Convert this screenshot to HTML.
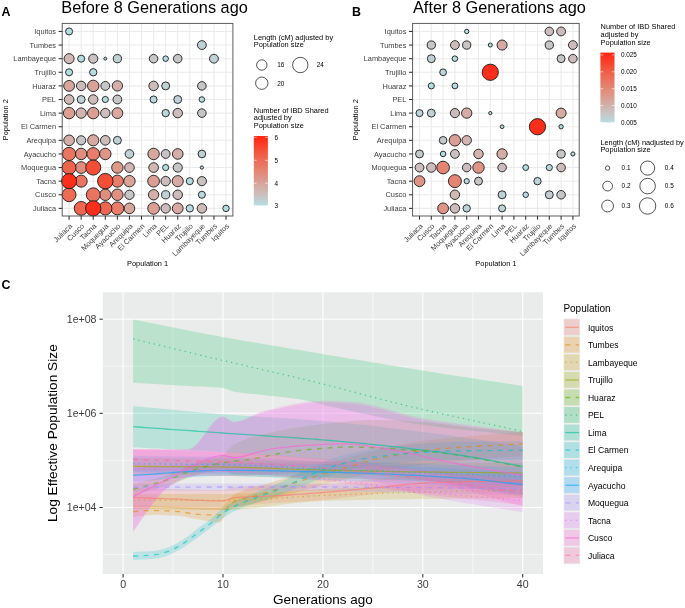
<!DOCTYPE html>
<html><head><meta charset="utf-8"><style>
html,body{margin:0;padding:0;background:#fff;}
body{width:685px;height:608px;overflow:hidden;font-family:"Liberation Sans",sans-serif;}
svg{display:block;will-change:transform;}
</style></head><body>
<svg width="685" height="608" viewBox="0 0 685 608">
<rect x="0" y="0" width="685" height="608" fill="#FFFFFF"/>
<rect x="62.2" y="23.4" width="170.7" height="192.6" fill="#FFFFFF"/>
<line x1="69.10" y1="23.4" x2="69.10" y2="216.0" stroke="#EBEBEB" stroke-width="1.07"/>
<line x1="81.17" y1="23.4" x2="81.17" y2="216.0" stroke="#EBEBEB" stroke-width="1.07"/>
<line x1="93.24" y1="23.4" x2="93.24" y2="216.0" stroke="#EBEBEB" stroke-width="1.07"/>
<line x1="105.31" y1="23.4" x2="105.31" y2="216.0" stroke="#EBEBEB" stroke-width="1.07"/>
<line x1="117.38" y1="23.4" x2="117.38" y2="216.0" stroke="#EBEBEB" stroke-width="1.07"/>
<line x1="129.45" y1="23.4" x2="129.45" y2="216.0" stroke="#EBEBEB" stroke-width="1.07"/>
<line x1="141.52" y1="23.4" x2="141.52" y2="216.0" stroke="#EBEBEB" stroke-width="1.07"/>
<line x1="153.59" y1="23.4" x2="153.59" y2="216.0" stroke="#EBEBEB" stroke-width="1.07"/>
<line x1="165.66" y1="23.4" x2="165.66" y2="216.0" stroke="#EBEBEB" stroke-width="1.07"/>
<line x1="177.73" y1="23.4" x2="177.73" y2="216.0" stroke="#EBEBEB" stroke-width="1.07"/>
<line x1="189.80" y1="23.4" x2="189.80" y2="216.0" stroke="#EBEBEB" stroke-width="1.07"/>
<line x1="201.87" y1="23.4" x2="201.87" y2="216.0" stroke="#EBEBEB" stroke-width="1.07"/>
<line x1="213.94" y1="23.4" x2="213.94" y2="216.0" stroke="#EBEBEB" stroke-width="1.07"/>
<line x1="226.01" y1="23.4" x2="226.01" y2="216.0" stroke="#EBEBEB" stroke-width="1.07"/>
<line x1="62.2" y1="31.45" x2="232.9" y2="31.45" stroke="#EBEBEB" stroke-width="1.07"/>
<line x1="62.2" y1="45.06" x2="232.9" y2="45.06" stroke="#EBEBEB" stroke-width="1.07"/>
<line x1="62.2" y1="58.67" x2="232.9" y2="58.67" stroke="#EBEBEB" stroke-width="1.07"/>
<line x1="62.2" y1="72.28" x2="232.9" y2="72.28" stroke="#EBEBEB" stroke-width="1.07"/>
<line x1="62.2" y1="85.89" x2="232.9" y2="85.89" stroke="#EBEBEB" stroke-width="1.07"/>
<line x1="62.2" y1="99.50" x2="232.9" y2="99.50" stroke="#EBEBEB" stroke-width="1.07"/>
<line x1="62.2" y1="113.11" x2="232.9" y2="113.11" stroke="#EBEBEB" stroke-width="1.07"/>
<line x1="62.2" y1="126.72" x2="232.9" y2="126.72" stroke="#EBEBEB" stroke-width="1.07"/>
<line x1="62.2" y1="140.33" x2="232.9" y2="140.33" stroke="#EBEBEB" stroke-width="1.07"/>
<line x1="62.2" y1="153.94" x2="232.9" y2="153.94" stroke="#EBEBEB" stroke-width="1.07"/>
<line x1="62.2" y1="167.55" x2="232.9" y2="167.55" stroke="#EBEBEB" stroke-width="1.07"/>
<line x1="62.2" y1="181.16" x2="232.9" y2="181.16" stroke="#EBEBEB" stroke-width="1.07"/>
<line x1="62.2" y1="194.77" x2="232.9" y2="194.77" stroke="#EBEBEB" stroke-width="1.07"/>
<line x1="62.2" y1="208.38" x2="232.9" y2="208.38" stroke="#EBEBEB" stroke-width="1.07"/>
<circle cx="69.10" cy="31.45" r="3.53" fill="#B6DCE2" stroke="#1A1A1A" stroke-width="0.9"/>
<circle cx="81.17" cy="58.67" r="3.53" fill="#B6DCE2" stroke="#1A1A1A" stroke-width="0.9"/>
<circle cx="105.31" cy="58.67" r="1.47" fill="#B6DCE2" stroke="#1A1A1A" stroke-width="0.9"/>
<circle cx="165.66" cy="58.67" r="2.78" fill="#B6DCE2" stroke="#1A1A1A" stroke-width="0.9"/>
<circle cx="69.10" cy="72.28" r="3.53" fill="#B6DCE2" stroke="#1A1A1A" stroke-width="0.9"/>
<circle cx="93.24" cy="72.28" r="3.68" fill="#B6DCE2" stroke="#1A1A1A" stroke-width="0.9"/>
<circle cx="105.31" cy="99.50" r="3.08" fill="#B6DCE2" stroke="#1A1A1A" stroke-width="0.9"/>
<circle cx="201.87" cy="99.50" r="2.78" fill="#B6DCE2" stroke="#1A1A1A" stroke-width="0.9"/>
<circle cx="165.66" cy="167.55" r="3.08" fill="#B6DCE2" stroke="#1A1A1A" stroke-width="0.9"/>
<circle cx="201.87" cy="167.55" r="1.62" fill="#B6DCE2" stroke="#1A1A1A" stroke-width="0.9"/>
<circle cx="189.80" cy="181.16" r="3.53" fill="#B6DCE2" stroke="#1A1A1A" stroke-width="0.9"/>
<circle cx="189.80" cy="208.38" r="3.68" fill="#B6DCE2" stroke="#1A1A1A" stroke-width="0.9"/>
<circle cx="226.01" cy="208.38" r="3.23" fill="#B6DCE2" stroke="#1A1A1A" stroke-width="0.9"/>
<circle cx="153.59" cy="99.50" r="3.53" fill="#BBD6DC" stroke="#1A1A1A" stroke-width="0.9"/>
<circle cx="165.66" cy="113.11" r="3.68" fill="#BBD6DC" stroke="#1A1A1A" stroke-width="0.9"/>
<circle cx="201.87" cy="194.77" r="3.53" fill="#BBD6DC" stroke="#1A1A1A" stroke-width="0.9"/>
<circle cx="201.87" cy="45.06" r="4.42" fill="#BFD1D5" stroke="#1A1A1A" stroke-width="0.9"/>
<circle cx="117.38" cy="58.67" r="4.12" fill="#BFD1D5" stroke="#1A1A1A" stroke-width="0.9"/>
<circle cx="213.94" cy="58.67" r="4.42" fill="#BFD1D5" stroke="#1A1A1A" stroke-width="0.9"/>
<circle cx="165.66" cy="85.89" r="3.98" fill="#BFD1D5" stroke="#1A1A1A" stroke-width="0.9"/>
<circle cx="81.17" cy="99.50" r="3.98" fill="#BFD1D5" stroke="#1A1A1A" stroke-width="0.9"/>
<circle cx="177.73" cy="99.50" r="3.98" fill="#BFD1D5" stroke="#1A1A1A" stroke-width="0.9"/>
<circle cx="117.38" cy="140.33" r="3.98" fill="#BFD1D5" stroke="#1A1A1A" stroke-width="0.9"/>
<circle cx="129.45" cy="153.94" r="4.33" fill="#BFD1D5" stroke="#1A1A1A" stroke-width="0.9"/>
<circle cx="201.87" cy="153.94" r="3.83" fill="#BFD1D5" stroke="#1A1A1A" stroke-width="0.9"/>
<circle cx="165.66" cy="194.77" r="4.12" fill="#BFD1D5" stroke="#1A1A1A" stroke-width="0.9"/>
<circle cx="153.59" cy="58.67" r="4.28" fill="#C6C6C7" stroke="#1A1A1A" stroke-width="0.9"/>
<circle cx="177.73" cy="58.67" r="4.28" fill="#C6C6C7" stroke="#1A1A1A" stroke-width="0.9"/>
<circle cx="105.31" cy="85.89" r="4.42" fill="#C6C6C7" stroke="#1A1A1A" stroke-width="0.9"/>
<circle cx="201.87" cy="85.89" r="4.28" fill="#C6C6C7" stroke="#1A1A1A" stroke-width="0.9"/>
<circle cx="117.38" cy="99.50" r="4.42" fill="#C6C6C7" stroke="#1A1A1A" stroke-width="0.9"/>
<circle cx="201.87" cy="113.11" r="4.28" fill="#C6C6C7" stroke="#1A1A1A" stroke-width="0.9"/>
<circle cx="177.73" cy="167.55" r="4.58" fill="#C6C6C7" stroke="#1A1A1A" stroke-width="0.9"/>
<circle cx="129.45" cy="194.77" r="4.67" fill="#C6C6C7" stroke="#1A1A1A" stroke-width="0.9"/>
<circle cx="81.17" cy="140.33" r="4.58" fill="#C7C4C5" stroke="#1A1A1A" stroke-width="0.9"/>
<circle cx="165.66" cy="153.94" r="4.42" fill="#C7C4C5" stroke="#1A1A1A" stroke-width="0.9"/>
<circle cx="93.24" cy="58.67" r="4.58" fill="#CAC1C1" stroke="#1A1A1A" stroke-width="0.9"/>
<circle cx="201.87" cy="181.16" r="4.58" fill="#CAC1C1" stroke="#1A1A1A" stroke-width="0.9"/>
<circle cx="81.17" cy="85.89" r="4.73" fill="#CCBDBC" stroke="#1A1A1A" stroke-width="0.9"/>
<circle cx="153.59" cy="85.89" r="4.73" fill="#CCBDBC" stroke="#1A1A1A" stroke-width="0.9"/>
<circle cx="105.31" cy="113.11" r="4.73" fill="#CCBDBC" stroke="#1A1A1A" stroke-width="0.9"/>
<circle cx="177.73" cy="113.11" r="4.73" fill="#CCBDBC" stroke="#1A1A1A" stroke-width="0.9"/>
<circle cx="105.31" cy="140.33" r="4.83" fill="#CCBDBC" stroke="#1A1A1A" stroke-width="0.9"/>
<circle cx="165.66" cy="181.16" r="4.73" fill="#CCBDBC" stroke="#1A1A1A" stroke-width="0.9"/>
<circle cx="177.73" cy="194.77" r="4.73" fill="#CCBDBC" stroke="#1A1A1A" stroke-width="0.9"/>
<circle cx="165.66" cy="208.38" r="4.73" fill="#CCBDBC" stroke="#1A1A1A" stroke-width="0.9"/>
<circle cx="93.24" cy="99.50" r="4.73" fill="#CDBCBA" stroke="#1A1A1A" stroke-width="0.9"/>
<circle cx="201.87" cy="208.38" r="4.73" fill="#CDBCBA" stroke="#1A1A1A" stroke-width="0.9"/>
<circle cx="69.10" cy="58.67" r="5.03" fill="#CFB8B5" stroke="#1A1A1A" stroke-width="0.9"/>
<circle cx="69.10" cy="99.50" r="4.83" fill="#CFB8B5" stroke="#1A1A1A" stroke-width="0.9"/>
<circle cx="129.45" cy="167.55" r="4.83" fill="#CFB8B5" stroke="#1A1A1A" stroke-width="0.9"/>
<circle cx="153.59" cy="167.55" r="4.83" fill="#CFB8B5" stroke="#1A1A1A" stroke-width="0.9"/>
<circle cx="81.17" cy="113.11" r="5.17" fill="#D2B5B1" stroke="#1A1A1A" stroke-width="0.9"/>
<circle cx="117.38" cy="85.89" r="5.17" fill="#D4AFAA" stroke="#1A1A1A" stroke-width="0.9"/>
<circle cx="69.10" cy="140.33" r="5.33" fill="#D4AFAA" stroke="#1A1A1A" stroke-width="0.9"/>
<circle cx="177.73" cy="153.94" r="5.33" fill="#D4AFAA" stroke="#1A1A1A" stroke-width="0.9"/>
<circle cx="153.59" cy="194.77" r="5.17" fill="#D4AFAA" stroke="#1A1A1A" stroke-width="0.9"/>
<circle cx="117.38" cy="113.11" r="5.42" fill="#D6AAA3" stroke="#1A1A1A" stroke-width="0.9"/>
<circle cx="93.24" cy="140.33" r="5.58" fill="#D6AAA3" stroke="#1A1A1A" stroke-width="0.9"/>
<circle cx="177.73" cy="181.16" r="5.58" fill="#D6AAA3" stroke="#1A1A1A" stroke-width="0.9"/>
<circle cx="177.73" cy="208.38" r="5.42" fill="#D6AAA3" stroke="#1A1A1A" stroke-width="0.9"/>
<circle cx="69.10" cy="85.89" r="5.42" fill="#D7A79E" stroke="#1A1A1A" stroke-width="0.9"/>
<circle cx="153.59" cy="153.94" r="5.73" fill="#D7A79E" stroke="#1A1A1A" stroke-width="0.9"/>
<circle cx="129.45" cy="208.38" r="5.33" fill="#D7A79E" stroke="#1A1A1A" stroke-width="0.9"/>
<circle cx="93.24" cy="85.89" r="5.73" fill="#D9A39A" stroke="#1A1A1A" stroke-width="0.9"/>
<circle cx="129.45" cy="181.16" r="5.73" fill="#D9A39A" stroke="#1A1A1A" stroke-width="0.9"/>
<circle cx="69.10" cy="113.11" r="5.73" fill="#DB9E93" stroke="#1A1A1A" stroke-width="0.9"/>
<circle cx="93.24" cy="113.11" r="5.73" fill="#DB9E93" stroke="#1A1A1A" stroke-width="0.9"/>
<circle cx="153.59" cy="181.16" r="5.88" fill="#DB9E93" stroke="#1A1A1A" stroke-width="0.9"/>
<circle cx="153.59" cy="208.38" r="5.88" fill="#DB9E93" stroke="#1A1A1A" stroke-width="0.9"/>
<circle cx="117.38" cy="167.55" r="5.73" fill="#DD998C" stroke="#1A1A1A" stroke-width="0.9"/>
<circle cx="105.31" cy="153.94" r="5.73" fill="#DE9587" stroke="#1A1A1A" stroke-width="0.9"/>
<circle cx="117.38" cy="194.77" r="5.73" fill="#DF9283" stroke="#1A1A1A" stroke-width="0.9"/>
<circle cx="81.17" cy="153.94" r="5.73" fill="#E18D7D" stroke="#1A1A1A" stroke-width="0.9"/>
<circle cx="81.17" cy="167.55" r="5.88" fill="#E18D7D" stroke="#1A1A1A" stroke-width="0.9"/>
<circle cx="105.31" cy="194.77" r="5.73" fill="#E18D7D" stroke="#1A1A1A" stroke-width="0.9"/>
<circle cx="93.24" cy="153.94" r="6.33" fill="#E77D6A" stroke="#1A1A1A" stroke-width="0.9"/>
<circle cx="117.38" cy="181.16" r="6.03" fill="#E77D6A" stroke="#1A1A1A" stroke-width="0.9"/>
<circle cx="117.38" cy="208.38" r="6.48" fill="#E77D6A" stroke="#1A1A1A" stroke-width="0.9"/>
<circle cx="69.10" cy="153.94" r="6.62" fill="#E97460" stroke="#1A1A1A" stroke-width="0.9"/>
<circle cx="81.17" cy="181.16" r="6.03" fill="#E97460" stroke="#1A1A1A" stroke-width="0.9"/>
<circle cx="93.24" cy="194.77" r="6.92" fill="#E97460" stroke="#1A1A1A" stroke-width="0.9"/>
<circle cx="69.10" cy="194.77" r="6.92" fill="#EC6C56" stroke="#1A1A1A" stroke-width="0.9"/>
<circle cx="81.17" cy="208.38" r="6.92" fill="#ED6750" stroke="#1A1A1A" stroke-width="0.9"/>
<circle cx="105.31" cy="208.38" r="6.62" fill="#ED6750" stroke="#1A1A1A" stroke-width="0.9"/>
<circle cx="69.10" cy="167.55" r="6.92" fill="#EE634C" stroke="#1A1A1A" stroke-width="0.9"/>
<circle cx="93.24" cy="167.55" r="7.53" fill="#F54E37" stroke="#1A1A1A" stroke-width="0.9"/>
<circle cx="105.31" cy="181.16" r="7.73" fill="#F54E37" stroke="#1A1A1A" stroke-width="0.9"/>
<circle cx="69.10" cy="181.16" r="7.53" fill="#FE2E1A" stroke="#1A1A1A" stroke-width="0.9"/>
<circle cx="93.24" cy="208.38" r="7.67" fill="#FE2E1A" stroke="#1A1A1A" stroke-width="0.9"/>
<rect x="62.2" y="23.4" width="170.7" height="192.6" fill="none" stroke="#555555" stroke-width="0.95"/>
<line x1="58.60" y1="31.45" x2="62.2" y2="31.45" stroke="#333333" stroke-width="1.07"/>
<text x="56.00" y="34.10" font-size="7.4" fill="#3D3D3D" text-anchor="end" font-family="Liberation Sans, sans-serif">Iquitos</text>
<line x1="58.60" y1="45.06" x2="62.2" y2="45.06" stroke="#333333" stroke-width="1.07"/>
<text x="56.00" y="47.71" font-size="7.4" fill="#3D3D3D" text-anchor="end" font-family="Liberation Sans, sans-serif">Tumbes</text>
<line x1="58.60" y1="58.67" x2="62.2" y2="58.67" stroke="#333333" stroke-width="1.07"/>
<text x="56.00" y="61.32" font-size="7.4" fill="#3D3D3D" text-anchor="end" font-family="Liberation Sans, sans-serif">Lambayeque</text>
<line x1="58.60" y1="72.28" x2="62.2" y2="72.28" stroke="#333333" stroke-width="1.07"/>
<text x="56.00" y="74.93" font-size="7.4" fill="#3D3D3D" text-anchor="end" font-family="Liberation Sans, sans-serif">Trujillo</text>
<line x1="58.60" y1="85.89" x2="62.2" y2="85.89" stroke="#333333" stroke-width="1.07"/>
<text x="56.00" y="88.54" font-size="7.4" fill="#3D3D3D" text-anchor="end" font-family="Liberation Sans, sans-serif">Huaraz</text>
<line x1="58.60" y1="99.50" x2="62.2" y2="99.50" stroke="#333333" stroke-width="1.07"/>
<text x="56.00" y="102.15" font-size="7.4" fill="#3D3D3D" text-anchor="end" font-family="Liberation Sans, sans-serif">PEL</text>
<line x1="58.60" y1="113.11" x2="62.2" y2="113.11" stroke="#333333" stroke-width="1.07"/>
<text x="56.00" y="115.76" font-size="7.4" fill="#3D3D3D" text-anchor="end" font-family="Liberation Sans, sans-serif">Lima</text>
<line x1="58.60" y1="126.72" x2="62.2" y2="126.72" stroke="#333333" stroke-width="1.07"/>
<text x="56.00" y="129.37" font-size="7.4" fill="#3D3D3D" text-anchor="end" font-family="Liberation Sans, sans-serif">El Carmen</text>
<line x1="58.60" y1="140.33" x2="62.2" y2="140.33" stroke="#333333" stroke-width="1.07"/>
<text x="56.00" y="142.98" font-size="7.4" fill="#3D3D3D" text-anchor="end" font-family="Liberation Sans, sans-serif">Arequipa</text>
<line x1="58.60" y1="153.94" x2="62.2" y2="153.94" stroke="#333333" stroke-width="1.07"/>
<text x="56.00" y="156.59" font-size="7.4" fill="#3D3D3D" text-anchor="end" font-family="Liberation Sans, sans-serif">Ayacucho</text>
<line x1="58.60" y1="167.55" x2="62.2" y2="167.55" stroke="#333333" stroke-width="1.07"/>
<text x="56.00" y="170.20" font-size="7.4" fill="#3D3D3D" text-anchor="end" font-family="Liberation Sans, sans-serif">Moquegua</text>
<line x1="58.60" y1="181.16" x2="62.2" y2="181.16" stroke="#333333" stroke-width="1.07"/>
<text x="56.00" y="183.81" font-size="7.4" fill="#3D3D3D" text-anchor="end" font-family="Liberation Sans, sans-serif">Tacna</text>
<line x1="58.60" y1="194.77" x2="62.2" y2="194.77" stroke="#333333" stroke-width="1.07"/>
<text x="56.00" y="197.42" font-size="7.4" fill="#3D3D3D" text-anchor="end" font-family="Liberation Sans, sans-serif">Cusco</text>
<line x1="58.60" y1="208.38" x2="62.2" y2="208.38" stroke="#333333" stroke-width="1.07"/>
<text x="56.00" y="211.03" font-size="7.4" fill="#3D3D3D" text-anchor="end" font-family="Liberation Sans, sans-serif">Juliaca</text>
<line x1="69.10" y1="216.0" x2="69.10" y2="219.70" stroke="#333333" stroke-width="1.07"/>
<text transform="translate(72.70,226.60) rotate(-45)" font-size="7.4" fill="#3D3D3D" text-anchor="end" font-family="Liberation Sans, sans-serif">Juliaca</text>
<line x1="81.17" y1="216.0" x2="81.17" y2="219.70" stroke="#333333" stroke-width="1.07"/>
<text transform="translate(84.77,226.60) rotate(-45)" font-size="7.4" fill="#3D3D3D" text-anchor="end" font-family="Liberation Sans, sans-serif">Cusco</text>
<line x1="93.24" y1="216.0" x2="93.24" y2="219.70" stroke="#333333" stroke-width="1.07"/>
<text transform="translate(96.84,226.60) rotate(-45)" font-size="7.4" fill="#3D3D3D" text-anchor="end" font-family="Liberation Sans, sans-serif">Tacna</text>
<line x1="105.31" y1="216.0" x2="105.31" y2="219.70" stroke="#333333" stroke-width="1.07"/>
<text transform="translate(108.91,226.60) rotate(-45)" font-size="7.4" fill="#3D3D3D" text-anchor="end" font-family="Liberation Sans, sans-serif">Moquegua</text>
<line x1="117.38" y1="216.0" x2="117.38" y2="219.70" stroke="#333333" stroke-width="1.07"/>
<text transform="translate(120.98,226.60) rotate(-45)" font-size="7.4" fill="#3D3D3D" text-anchor="end" font-family="Liberation Sans, sans-serif">Ayacucho</text>
<line x1="129.45" y1="216.0" x2="129.45" y2="219.70" stroke="#333333" stroke-width="1.07"/>
<text transform="translate(133.05,226.60) rotate(-45)" font-size="7.4" fill="#3D3D3D" text-anchor="end" font-family="Liberation Sans, sans-serif">Arequipa</text>
<line x1="141.52" y1="216.0" x2="141.52" y2="219.70" stroke="#333333" stroke-width="1.07"/>
<text transform="translate(145.12,226.60) rotate(-45)" font-size="7.4" fill="#3D3D3D" text-anchor="end" font-family="Liberation Sans, sans-serif">El Carmen</text>
<line x1="153.59" y1="216.0" x2="153.59" y2="219.70" stroke="#333333" stroke-width="1.07"/>
<text transform="translate(157.19,226.60) rotate(-45)" font-size="7.4" fill="#3D3D3D" text-anchor="end" font-family="Liberation Sans, sans-serif">Lima</text>
<line x1="165.66" y1="216.0" x2="165.66" y2="219.70" stroke="#333333" stroke-width="1.07"/>
<text transform="translate(169.26,226.60) rotate(-45)" font-size="7.4" fill="#3D3D3D" text-anchor="end" font-family="Liberation Sans, sans-serif">PEL</text>
<line x1="177.73" y1="216.0" x2="177.73" y2="219.70" stroke="#333333" stroke-width="1.07"/>
<text transform="translate(181.33,226.60) rotate(-45)" font-size="7.4" fill="#3D3D3D" text-anchor="end" font-family="Liberation Sans, sans-serif">Huaraz</text>
<line x1="189.80" y1="216.0" x2="189.80" y2="219.70" stroke="#333333" stroke-width="1.07"/>
<text transform="translate(193.40,226.60) rotate(-45)" font-size="7.4" fill="#3D3D3D" text-anchor="end" font-family="Liberation Sans, sans-serif">Trujillo</text>
<line x1="201.87" y1="216.0" x2="201.87" y2="219.70" stroke="#333333" stroke-width="1.07"/>
<text transform="translate(205.47,226.60) rotate(-45)" font-size="7.4" fill="#3D3D3D" text-anchor="end" font-family="Liberation Sans, sans-serif">Lambayeque</text>
<line x1="213.94" y1="216.0" x2="213.94" y2="219.70" stroke="#333333" stroke-width="1.07"/>
<text transform="translate(217.54,226.60) rotate(-45)" font-size="7.4" fill="#3D3D3D" text-anchor="end" font-family="Liberation Sans, sans-serif">Tumbes</text>
<line x1="226.01" y1="216.0" x2="226.01" y2="219.70" stroke="#333333" stroke-width="1.07"/>
<text transform="translate(229.61,226.60) rotate(-45)" font-size="7.4" fill="#3D3D3D" text-anchor="end" font-family="Liberation Sans, sans-serif">Iquitos</text>
<text x="147.55" y="266.2" font-size="7.4" fill="#000" text-anchor="middle" font-family="Liberation Sans, sans-serif">Population 1</text>
<text transform="translate(7.60,119.70) rotate(-90)" font-size="7.4" fill="#000" text-anchor="middle" font-family="Liberation Sans, sans-serif">Population 2</text>
<text x="61.3" y="12.9" font-size="16.3" fill="#000" font-family="Liberation Sans, sans-serif">Before 8 Generations ago</text>
<text x="1.4" y="15.6" font-size="12.4" font-weight="bold" fill="#000" font-family="Liberation Sans, sans-serif">A</text>
<rect x="412.6" y="23.4" width="166.60000000000002" height="192.6" fill="#FFFFFF"/>
<line x1="419.50" y1="23.4" x2="419.50" y2="216.0" stroke="#EBEBEB" stroke-width="1.07"/>
<line x1="431.30" y1="23.4" x2="431.30" y2="216.0" stroke="#EBEBEB" stroke-width="1.07"/>
<line x1="443.10" y1="23.4" x2="443.10" y2="216.0" stroke="#EBEBEB" stroke-width="1.07"/>
<line x1="454.90" y1="23.4" x2="454.90" y2="216.0" stroke="#EBEBEB" stroke-width="1.07"/>
<line x1="466.70" y1="23.4" x2="466.70" y2="216.0" stroke="#EBEBEB" stroke-width="1.07"/>
<line x1="478.50" y1="23.4" x2="478.50" y2="216.0" stroke="#EBEBEB" stroke-width="1.07"/>
<line x1="490.30" y1="23.4" x2="490.30" y2="216.0" stroke="#EBEBEB" stroke-width="1.07"/>
<line x1="502.10" y1="23.4" x2="502.10" y2="216.0" stroke="#EBEBEB" stroke-width="1.07"/>
<line x1="513.90" y1="23.4" x2="513.90" y2="216.0" stroke="#EBEBEB" stroke-width="1.07"/>
<line x1="525.70" y1="23.4" x2="525.70" y2="216.0" stroke="#EBEBEB" stroke-width="1.07"/>
<line x1="537.50" y1="23.4" x2="537.50" y2="216.0" stroke="#EBEBEB" stroke-width="1.07"/>
<line x1="549.30" y1="23.4" x2="549.30" y2="216.0" stroke="#EBEBEB" stroke-width="1.07"/>
<line x1="561.10" y1="23.4" x2="561.10" y2="216.0" stroke="#EBEBEB" stroke-width="1.07"/>
<line x1="572.90" y1="23.4" x2="572.90" y2="216.0" stroke="#EBEBEB" stroke-width="1.07"/>
<line x1="412.6" y1="31.45" x2="579.2" y2="31.45" stroke="#EBEBEB" stroke-width="1.07"/>
<line x1="412.6" y1="45.06" x2="579.2" y2="45.06" stroke="#EBEBEB" stroke-width="1.07"/>
<line x1="412.6" y1="58.67" x2="579.2" y2="58.67" stroke="#EBEBEB" stroke-width="1.07"/>
<line x1="412.6" y1="72.28" x2="579.2" y2="72.28" stroke="#EBEBEB" stroke-width="1.07"/>
<line x1="412.6" y1="85.89" x2="579.2" y2="85.89" stroke="#EBEBEB" stroke-width="1.07"/>
<line x1="412.6" y1="99.50" x2="579.2" y2="99.50" stroke="#EBEBEB" stroke-width="1.07"/>
<line x1="412.6" y1="113.11" x2="579.2" y2="113.11" stroke="#EBEBEB" stroke-width="1.07"/>
<line x1="412.6" y1="126.72" x2="579.2" y2="126.72" stroke="#EBEBEB" stroke-width="1.07"/>
<line x1="412.6" y1="140.33" x2="579.2" y2="140.33" stroke="#EBEBEB" stroke-width="1.07"/>
<line x1="412.6" y1="153.94" x2="579.2" y2="153.94" stroke="#EBEBEB" stroke-width="1.07"/>
<line x1="412.6" y1="167.55" x2="579.2" y2="167.55" stroke="#EBEBEB" stroke-width="1.07"/>
<line x1="412.6" y1="181.16" x2="579.2" y2="181.16" stroke="#EBEBEB" stroke-width="1.07"/>
<line x1="412.6" y1="194.77" x2="579.2" y2="194.77" stroke="#EBEBEB" stroke-width="1.07"/>
<line x1="412.6" y1="208.38" x2="579.2" y2="208.38" stroke="#EBEBEB" stroke-width="1.07"/>
<circle cx="466.70" cy="31.45" r="2.18" fill="#B6DCE2" stroke="#1A1A1A" stroke-width="0.9"/>
<circle cx="490.30" cy="45.06" r="2.03" fill="#B6DCE2" stroke="#1A1A1A" stroke-width="0.9"/>
<circle cx="454.90" cy="58.67" r="2.78" fill="#B6DCE2" stroke="#1A1A1A" stroke-width="0.9"/>
<circle cx="431.30" cy="85.89" r="3.08" fill="#B6DCE2" stroke="#1A1A1A" stroke-width="0.9"/>
<circle cx="454.90" cy="85.89" r="2.93" fill="#B6DCE2" stroke="#1A1A1A" stroke-width="0.9"/>
<circle cx="490.30" cy="113.11" r="1.62" fill="#B6DCE2" stroke="#1A1A1A" stroke-width="0.9"/>
<circle cx="502.10" cy="126.72" r="1.87" fill="#B6DCE2" stroke="#1A1A1A" stroke-width="0.9"/>
<circle cx="561.10" cy="126.72" r="2.18" fill="#B6DCE2" stroke="#1A1A1A" stroke-width="0.9"/>
<circle cx="443.10" cy="153.94" r="2.78" fill="#B6DCE2" stroke="#1A1A1A" stroke-width="0.9"/>
<circle cx="572.90" cy="153.94" r="2.03" fill="#B6DCE2" stroke="#1A1A1A" stroke-width="0.9"/>
<circle cx="525.70" cy="167.55" r="2.93" fill="#B6DCE2" stroke="#1A1A1A" stroke-width="0.9"/>
<circle cx="549.30" cy="167.55" r="3.08" fill="#B6DCE2" stroke="#1A1A1A" stroke-width="0.9"/>
<circle cx="466.70" cy="181.16" r="2.62" fill="#B6DCE2" stroke="#1A1A1A" stroke-width="0.9"/>
<circle cx="525.70" cy="194.77" r="2.78" fill="#B6DCE2" stroke="#1A1A1A" stroke-width="0.9"/>
<circle cx="419.50" cy="113.11" r="3.53" fill="#BBD6DC" stroke="#1A1A1A" stroke-width="0.9"/>
<circle cx="443.10" cy="72.28" r="3.38" fill="#BCD5D9" stroke="#1A1A1A" stroke-width="0.9"/>
<circle cx="502.10" cy="208.38" r="3.53" fill="#BCD5D9" stroke="#1A1A1A" stroke-width="0.9"/>
<circle cx="537.50" cy="181.16" r="3.68" fill="#BED3D7" stroke="#1A1A1A" stroke-width="0.9"/>
<circle cx="466.70" cy="208.38" r="3.68" fill="#BED3D7" stroke="#1A1A1A" stroke-width="0.9"/>
<circle cx="431.30" cy="58.67" r="3.98" fill="#BFD1D5" stroke="#1A1A1A" stroke-width="0.9"/>
<circle cx="431.30" cy="113.11" r="3.98" fill="#BFD1D5" stroke="#1A1A1A" stroke-width="0.9"/>
<circle cx="502.10" cy="194.77" r="3.98" fill="#BFD1D5" stroke="#1A1A1A" stroke-width="0.9"/>
<circle cx="549.30" cy="194.77" r="3.98" fill="#C2CDD1" stroke="#1A1A1A" stroke-width="0.9"/>
<circle cx="443.10" cy="140.33" r="3.83" fill="#C4CACC" stroke="#1A1A1A" stroke-width="0.9"/>
<circle cx="419.50" cy="153.94" r="3.98" fill="#C4CACC" stroke="#1A1A1A" stroke-width="0.9"/>
<circle cx="431.30" cy="45.06" r="4.12" fill="#C6C6C7" stroke="#1A1A1A" stroke-width="0.9"/>
<circle cx="549.30" cy="45.06" r="4.12" fill="#C6C6C7" stroke="#1A1A1A" stroke-width="0.9"/>
<circle cx="561.10" cy="58.67" r="3.98" fill="#C6C6C7" stroke="#1A1A1A" stroke-width="0.9"/>
<circle cx="561.10" cy="153.94" r="4.12" fill="#C6C6C7" stroke="#1A1A1A" stroke-width="0.9"/>
<circle cx="478.50" cy="181.16" r="3.98" fill="#C6C6C7" stroke="#1A1A1A" stroke-width="0.9"/>
<circle cx="561.10" cy="194.77" r="4.28" fill="#C6C6C7" stroke="#1A1A1A" stroke-width="0.9"/>
<circle cx="466.70" cy="45.06" r="4.12" fill="#C9C3C3" stroke="#1A1A1A" stroke-width="0.9"/>
<circle cx="454.90" cy="153.94" r="4.42" fill="#CAC1C1" stroke="#1A1A1A" stroke-width="0.9"/>
<circle cx="549.30" cy="31.45" r="4.28" fill="#CCBDBC" stroke="#1A1A1A" stroke-width="0.9"/>
<circle cx="561.10" cy="31.45" r="4.42" fill="#CCBDBC" stroke="#1A1A1A" stroke-width="0.9"/>
<circle cx="454.90" cy="45.06" r="4.42" fill="#CCBDBC" stroke="#1A1A1A" stroke-width="0.9"/>
<circle cx="572.90" cy="45.06" r="4.42" fill="#CCBDBC" stroke="#1A1A1A" stroke-width="0.9"/>
<circle cx="572.90" cy="58.67" r="4.28" fill="#CCBDBC" stroke="#1A1A1A" stroke-width="0.9"/>
<circle cx="454.90" cy="113.11" r="4.58" fill="#CCBDBC" stroke="#1A1A1A" stroke-width="0.9"/>
<circle cx="419.50" cy="167.55" r="4.42" fill="#CCBDBC" stroke="#1A1A1A" stroke-width="0.9"/>
<circle cx="466.70" cy="167.55" r="4.28" fill="#CCBDBC" stroke="#1A1A1A" stroke-width="0.9"/>
<circle cx="502.10" cy="167.55" r="4.28" fill="#CCBDBC" stroke="#1A1A1A" stroke-width="0.9"/>
<circle cx="561.10" cy="167.55" r="4.28" fill="#CCBDBC" stroke="#1A1A1A" stroke-width="0.9"/>
<circle cx="454.90" cy="208.38" r="4.73" fill="#CCBDBC" stroke="#1A1A1A" stroke-width="0.9"/>
<circle cx="431.30" cy="167.55" r="4.73" fill="#CDBCBA" stroke="#1A1A1A" stroke-width="0.9"/>
<circle cx="454.90" cy="194.77" r="4.73" fill="#CFB8B5" stroke="#1A1A1A" stroke-width="0.9"/>
<circle cx="466.70" cy="140.33" r="4.73" fill="#D2B5B1" stroke="#1A1A1A" stroke-width="0.9"/>
<circle cx="478.50" cy="153.94" r="4.73" fill="#D2B5B1" stroke="#1A1A1A" stroke-width="0.9"/>
<circle cx="466.70" cy="113.11" r="5.17" fill="#D5ACA5" stroke="#1A1A1A" stroke-width="0.9"/>
<circle cx="561.10" cy="113.11" r="5.03" fill="#D5ACA5" stroke="#1A1A1A" stroke-width="0.9"/>
<circle cx="502.10" cy="153.94" r="5.17" fill="#D5ACA5" stroke="#1A1A1A" stroke-width="0.9"/>
<circle cx="502.10" cy="45.06" r="5.03" fill="#D6AAA3" stroke="#1A1A1A" stroke-width="0.9"/>
<circle cx="454.90" cy="140.33" r="5.73" fill="#DB9E93" stroke="#1A1A1A" stroke-width="0.9"/>
<circle cx="478.50" cy="167.55" r="5.73" fill="#DE9587" stroke="#1A1A1A" stroke-width="0.9"/>
<circle cx="419.50" cy="181.16" r="5.42" fill="#DE9587" stroke="#1A1A1A" stroke-width="0.9"/>
<circle cx="443.10" cy="208.38" r="5.42" fill="#DE9587" stroke="#1A1A1A" stroke-width="0.9"/>
<circle cx="443.10" cy="167.55" r="6.33" fill="#E48573" stroke="#1A1A1A" stroke-width="0.9"/>
<circle cx="454.90" cy="181.16" r="6.48" fill="#E48573" stroke="#1A1A1A" stroke-width="0.9"/>
<circle cx="490.30" cy="72.28" r="8.12" fill="#FE2E1A" stroke="#1A1A1A" stroke-width="0.9"/>
<circle cx="537.50" cy="126.72" r="8.12" fill="#FE2E1A" stroke="#1A1A1A" stroke-width="0.9"/>
<rect x="412.6" y="23.4" width="166.60000000000002" height="192.6" fill="none" stroke="#555555" stroke-width="0.95"/>
<line x1="409.00" y1="31.45" x2="412.6" y2="31.45" stroke="#333333" stroke-width="1.07"/>
<text x="406.40" y="34.10" font-size="7.4" fill="#3D3D3D" text-anchor="end" font-family="Liberation Sans, sans-serif">Iquitos</text>
<line x1="409.00" y1="45.06" x2="412.6" y2="45.06" stroke="#333333" stroke-width="1.07"/>
<text x="406.40" y="47.71" font-size="7.4" fill="#3D3D3D" text-anchor="end" font-family="Liberation Sans, sans-serif">Tumbes</text>
<line x1="409.00" y1="58.67" x2="412.6" y2="58.67" stroke="#333333" stroke-width="1.07"/>
<text x="406.40" y="61.32" font-size="7.4" fill="#3D3D3D" text-anchor="end" font-family="Liberation Sans, sans-serif">Lambayeque</text>
<line x1="409.00" y1="72.28" x2="412.6" y2="72.28" stroke="#333333" stroke-width="1.07"/>
<text x="406.40" y="74.93" font-size="7.4" fill="#3D3D3D" text-anchor="end" font-family="Liberation Sans, sans-serif">Trujillo</text>
<line x1="409.00" y1="85.89" x2="412.6" y2="85.89" stroke="#333333" stroke-width="1.07"/>
<text x="406.40" y="88.54" font-size="7.4" fill="#3D3D3D" text-anchor="end" font-family="Liberation Sans, sans-serif">Huaraz</text>
<line x1="409.00" y1="99.50" x2="412.6" y2="99.50" stroke="#333333" stroke-width="1.07"/>
<text x="406.40" y="102.15" font-size="7.4" fill="#3D3D3D" text-anchor="end" font-family="Liberation Sans, sans-serif">PEL</text>
<line x1="409.00" y1="113.11" x2="412.6" y2="113.11" stroke="#333333" stroke-width="1.07"/>
<text x="406.40" y="115.76" font-size="7.4" fill="#3D3D3D" text-anchor="end" font-family="Liberation Sans, sans-serif">Lima</text>
<line x1="409.00" y1="126.72" x2="412.6" y2="126.72" stroke="#333333" stroke-width="1.07"/>
<text x="406.40" y="129.37" font-size="7.4" fill="#3D3D3D" text-anchor="end" font-family="Liberation Sans, sans-serif">El Carmen</text>
<line x1="409.00" y1="140.33" x2="412.6" y2="140.33" stroke="#333333" stroke-width="1.07"/>
<text x="406.40" y="142.98" font-size="7.4" fill="#3D3D3D" text-anchor="end" font-family="Liberation Sans, sans-serif">Arequipa</text>
<line x1="409.00" y1="153.94" x2="412.6" y2="153.94" stroke="#333333" stroke-width="1.07"/>
<text x="406.40" y="156.59" font-size="7.4" fill="#3D3D3D" text-anchor="end" font-family="Liberation Sans, sans-serif">Ayacucho</text>
<line x1="409.00" y1="167.55" x2="412.6" y2="167.55" stroke="#333333" stroke-width="1.07"/>
<text x="406.40" y="170.20" font-size="7.4" fill="#3D3D3D" text-anchor="end" font-family="Liberation Sans, sans-serif">Moquegua</text>
<line x1="409.00" y1="181.16" x2="412.6" y2="181.16" stroke="#333333" stroke-width="1.07"/>
<text x="406.40" y="183.81" font-size="7.4" fill="#3D3D3D" text-anchor="end" font-family="Liberation Sans, sans-serif">Tacna</text>
<line x1="409.00" y1="194.77" x2="412.6" y2="194.77" stroke="#333333" stroke-width="1.07"/>
<text x="406.40" y="197.42" font-size="7.4" fill="#3D3D3D" text-anchor="end" font-family="Liberation Sans, sans-serif">Cusco</text>
<line x1="409.00" y1="208.38" x2="412.6" y2="208.38" stroke="#333333" stroke-width="1.07"/>
<text x="406.40" y="211.03" font-size="7.4" fill="#3D3D3D" text-anchor="end" font-family="Liberation Sans, sans-serif">Juliaca</text>
<line x1="419.50" y1="216.0" x2="419.50" y2="219.70" stroke="#333333" stroke-width="1.07"/>
<text transform="translate(423.10,226.60) rotate(-45)" font-size="7.4" fill="#3D3D3D" text-anchor="end" font-family="Liberation Sans, sans-serif">Juliaca</text>
<line x1="431.30" y1="216.0" x2="431.30" y2="219.70" stroke="#333333" stroke-width="1.07"/>
<text transform="translate(434.90,226.60) rotate(-45)" font-size="7.4" fill="#3D3D3D" text-anchor="end" font-family="Liberation Sans, sans-serif">Cusco</text>
<line x1="443.10" y1="216.0" x2="443.10" y2="219.70" stroke="#333333" stroke-width="1.07"/>
<text transform="translate(446.70,226.60) rotate(-45)" font-size="7.4" fill="#3D3D3D" text-anchor="end" font-family="Liberation Sans, sans-serif">Tacna</text>
<line x1="454.90" y1="216.0" x2="454.90" y2="219.70" stroke="#333333" stroke-width="1.07"/>
<text transform="translate(458.50,226.60) rotate(-45)" font-size="7.4" fill="#3D3D3D" text-anchor="end" font-family="Liberation Sans, sans-serif">Moquegua</text>
<line x1="466.70" y1="216.0" x2="466.70" y2="219.70" stroke="#333333" stroke-width="1.07"/>
<text transform="translate(470.30,226.60) rotate(-45)" font-size="7.4" fill="#3D3D3D" text-anchor="end" font-family="Liberation Sans, sans-serif">Ayacucho</text>
<line x1="478.50" y1="216.0" x2="478.50" y2="219.70" stroke="#333333" stroke-width="1.07"/>
<text transform="translate(482.10,226.60) rotate(-45)" font-size="7.4" fill="#3D3D3D" text-anchor="end" font-family="Liberation Sans, sans-serif">Arequipa</text>
<line x1="490.30" y1="216.0" x2="490.30" y2="219.70" stroke="#333333" stroke-width="1.07"/>
<text transform="translate(493.90,226.60) rotate(-45)" font-size="7.4" fill="#3D3D3D" text-anchor="end" font-family="Liberation Sans, sans-serif">El Carmen</text>
<line x1="502.10" y1="216.0" x2="502.10" y2="219.70" stroke="#333333" stroke-width="1.07"/>
<text transform="translate(505.70,226.60) rotate(-45)" font-size="7.4" fill="#3D3D3D" text-anchor="end" font-family="Liberation Sans, sans-serif">Lima</text>
<line x1="513.90" y1="216.0" x2="513.90" y2="219.70" stroke="#333333" stroke-width="1.07"/>
<text transform="translate(517.50,226.60) rotate(-45)" font-size="7.4" fill="#3D3D3D" text-anchor="end" font-family="Liberation Sans, sans-serif">PEL</text>
<line x1="525.70" y1="216.0" x2="525.70" y2="219.70" stroke="#333333" stroke-width="1.07"/>
<text transform="translate(529.30,226.60) rotate(-45)" font-size="7.4" fill="#3D3D3D" text-anchor="end" font-family="Liberation Sans, sans-serif">Huaraz</text>
<line x1="537.50" y1="216.0" x2="537.50" y2="219.70" stroke="#333333" stroke-width="1.07"/>
<text transform="translate(541.10,226.60) rotate(-45)" font-size="7.4" fill="#3D3D3D" text-anchor="end" font-family="Liberation Sans, sans-serif">Trujillo</text>
<line x1="549.30" y1="216.0" x2="549.30" y2="219.70" stroke="#333333" stroke-width="1.07"/>
<text transform="translate(552.90,226.60) rotate(-45)" font-size="7.4" fill="#3D3D3D" text-anchor="end" font-family="Liberation Sans, sans-serif">Lambayeque</text>
<line x1="561.10" y1="216.0" x2="561.10" y2="219.70" stroke="#333333" stroke-width="1.07"/>
<text transform="translate(564.70,226.60) rotate(-45)" font-size="7.4" fill="#3D3D3D" text-anchor="end" font-family="Liberation Sans, sans-serif">Tumbes</text>
<line x1="572.90" y1="216.0" x2="572.90" y2="219.70" stroke="#333333" stroke-width="1.07"/>
<text transform="translate(576.50,226.60) rotate(-45)" font-size="7.4" fill="#3D3D3D" text-anchor="end" font-family="Liberation Sans, sans-serif">Iquitos</text>
<text x="495.90" y="266.2" font-size="7.4" fill="#000" text-anchor="middle" font-family="Liberation Sans, sans-serif">Population 1</text>
<text transform="translate(358.00,119.70) rotate(-90)" font-size="7.4" fill="#000" text-anchor="middle" font-family="Liberation Sans, sans-serif">Population 2</text>
<text x="413.0" y="12.9" font-size="16.3" fill="#000" font-family="Liberation Sans, sans-serif">After 8 Generations ago</text>
<text x="352.0" y="15.6" font-size="12.4" font-weight="bold" fill="#000" font-family="Liberation Sans, sans-serif">B</text>
<text x="253.8" y="39.90" font-size="7.4" fill="#000" font-family="Liberation Sans, sans-serif">Length (cM) adjusted by</text>
<text x="253.8" y="47.40" font-size="7.4" fill="#000" font-family="Liberation Sans, sans-serif">Population size</text>
<circle cx="261.8" cy="65.0" r="5.2" fill="none" stroke="#1A1A1A" stroke-width="0.75"/>
<text x="277.2" y="67.30" font-size="6.4" fill="#000" font-family="Liberation Sans, sans-serif">16</text>
<circle cx="300.3" cy="65.0" r="7.7" fill="none" stroke="#1A1A1A" stroke-width="0.75"/>
<text x="316.8" y="67.30" font-size="6.4" fill="#000" font-family="Liberation Sans, sans-serif">24</text>
<circle cx="261.8" cy="83.2" r="6.2" fill="none" stroke="#1A1A1A" stroke-width="0.75"/>
<text x="277.2" y="85.50" font-size="6.4" fill="#000" font-family="Liberation Sans, sans-serif">20</text>
<text x="253.8" y="112.70" font-size="7.4" fill="#000" font-family="Liberation Sans, sans-serif">Number of IBD Shared</text>
<text x="253.8" y="120.40" font-size="7.4" fill="#000" font-family="Liberation Sans, sans-serif">adjusted by</text>
<text x="253.8" y="128.10" font-size="7.4" fill="#000" font-family="Liberation Sans, sans-serif">Population size</text>
<defs><linearGradient id="cb253" x1="0" y1="1" x2="0" y2="0">
<stop offset="0.0" stop-color="#B6DCE2"/>
<stop offset="0.1" stop-color="#C4CACC"/>
<stop offset="0.2" stop-color="#CFB8B5"/>
<stop offset="0.3" stop-color="#D7A79E"/>
<stop offset="0.4" stop-color="#DE9587"/>
<stop offset="0.5" stop-color="#E48573"/>
<stop offset="0.6" stop-color="#E97460"/>
<stop offset="0.7" stop-color="#EE634C"/>
<stop offset="0.8" stop-color="#F54E37"/>
<stop offset="0.9" stop-color="#FC3722"/>
<stop offset="1.0" stop-color="#FF2412"/>
</linearGradient></defs>
<rect x="253.8" y="136.0" width="14.1" height="69.50" fill="url(#cb253)"/>
<line x1="253.8" y1="137.30" x2="256.60" y2="137.30" stroke="#FFFFFF" stroke-width="0.6"/>
<line x1="265.10" y1="137.30" x2="267.90" y2="137.30" stroke="#FFFFFF" stroke-width="0.6"/>
<text x="274.5" y="139.60" font-size="6.4" fill="#000" font-family="Liberation Sans, sans-serif">6</text>
<line x1="253.8" y1="160.30" x2="256.60" y2="160.30" stroke="#FFFFFF" stroke-width="0.6"/>
<line x1="265.10" y1="160.30" x2="267.90" y2="160.30" stroke="#FFFFFF" stroke-width="0.6"/>
<text x="274.5" y="162.60" font-size="6.4" fill="#000" font-family="Liberation Sans, sans-serif">5</text>
<line x1="253.8" y1="183.20" x2="256.60" y2="183.20" stroke="#FFFFFF" stroke-width="0.6"/>
<line x1="265.10" y1="183.20" x2="267.90" y2="183.20" stroke="#FFFFFF" stroke-width="0.6"/>
<text x="274.5" y="185.50" font-size="6.4" fill="#000" font-family="Liberation Sans, sans-serif">4</text>
<line x1="253.8" y1="205.60" x2="256.60" y2="205.60" stroke="#FFFFFF" stroke-width="0.6"/>
<line x1="265.10" y1="205.60" x2="267.90" y2="205.60" stroke="#FFFFFF" stroke-width="0.6"/>
<text x="274.5" y="207.90" font-size="6.4" fill="#000" font-family="Liberation Sans, sans-serif">3</text>
<text x="600.6" y="29.00" font-size="7.4" fill="#000" font-family="Liberation Sans, sans-serif">Number of IBD Shared</text>
<text x="600.6" y="36.80" font-size="7.4" fill="#000" font-family="Liberation Sans, sans-serif">adjusted by</text>
<text x="600.6" y="44.60" font-size="7.4" fill="#000" font-family="Liberation Sans, sans-serif">Population size</text>
<defs><linearGradient id="cb600" x1="0" y1="1" x2="0" y2="0">
<stop offset="0.0" stop-color="#B6DCE2"/>
<stop offset="0.1" stop-color="#C4CACC"/>
<stop offset="0.2" stop-color="#CFB8B5"/>
<stop offset="0.3" stop-color="#D7A79E"/>
<stop offset="0.4" stop-color="#DE9587"/>
<stop offset="0.5" stop-color="#E48573"/>
<stop offset="0.6" stop-color="#E97460"/>
<stop offset="0.7" stop-color="#EE634C"/>
<stop offset="0.8" stop-color="#F54E37"/>
<stop offset="0.9" stop-color="#FC3722"/>
<stop offset="1.0" stop-color="#FF2412"/>
</linearGradient></defs>
<rect x="600.4" y="52.6" width="14.1" height="69.80" fill="url(#cb600)"/>
<line x1="600.4" y1="54.90" x2="603.20" y2="54.90" stroke="#FFFFFF" stroke-width="0.6"/>
<line x1="611.70" y1="54.90" x2="614.50" y2="54.90" stroke="#FFFFFF" stroke-width="0.6"/>
<text x="620.9" y="57.20" font-size="6.4" fill="#000" font-family="Liberation Sans, sans-serif">0.025</text>
<line x1="600.4" y1="71.80" x2="603.20" y2="71.80" stroke="#FFFFFF" stroke-width="0.6"/>
<line x1="611.70" y1="71.80" x2="614.50" y2="71.80" stroke="#FFFFFF" stroke-width="0.6"/>
<text x="620.9" y="74.10" font-size="6.4" fill="#000" font-family="Liberation Sans, sans-serif">0.020</text>
<line x1="600.4" y1="88.70" x2="603.20" y2="88.70" stroke="#FFFFFF" stroke-width="0.6"/>
<line x1="611.70" y1="88.70" x2="614.50" y2="88.70" stroke="#FFFFFF" stroke-width="0.6"/>
<text x="620.9" y="91.00" font-size="6.4" fill="#000" font-family="Liberation Sans, sans-serif">0.015</text>
<line x1="600.4" y1="105.50" x2="603.20" y2="105.50" stroke="#FFFFFF" stroke-width="0.6"/>
<line x1="611.70" y1="105.50" x2="614.50" y2="105.50" stroke="#FFFFFF" stroke-width="0.6"/>
<text x="620.9" y="107.80" font-size="6.4" fill="#000" font-family="Liberation Sans, sans-serif">0.010</text>
<line x1="600.4" y1="122.20" x2="603.20" y2="122.20" stroke="#FFFFFF" stroke-width="0.6"/>
<line x1="611.70" y1="122.20" x2="614.50" y2="122.20" stroke="#FFFFFF" stroke-width="0.6"/>
<text x="620.9" y="124.50" font-size="6.4" fill="#000" font-family="Liberation Sans, sans-serif">0.005</text>
<text x="600.4" y="144.50" font-size="7.4" fill="#000" font-family="Liberation Sans, sans-serif">Length (cM) nadjusted by</text>
<text x="600.4" y="152.00" font-size="7.4" fill="#000" font-family="Liberation Sans, sans-serif">Population size</text>
<circle cx="607.6" cy="168.1" r="2.2" fill="none" stroke="#1A1A1A" stroke-width="0.75"/>
<text x="621.6" y="170.40" font-size="6.4" fill="#000" font-family="Liberation Sans, sans-serif">0.1</text>
<circle cx="647.6" cy="168.1" r="7.1" fill="none" stroke="#1A1A1A" stroke-width="0.75"/>
<text x="664.8" y="170.40" font-size="6.4" fill="#000" font-family="Liberation Sans, sans-serif">0.4</text>
<circle cx="607.6" cy="186.1" r="4.9" fill="none" stroke="#1A1A1A" stroke-width="0.75"/>
<text x="621.6" y="188.40" font-size="6.4" fill="#000" font-family="Liberation Sans, sans-serif">0.2</text>
<circle cx="647.6" cy="186.1" r="7.8" fill="none" stroke="#1A1A1A" stroke-width="0.75"/>
<text x="664.8" y="188.40" font-size="6.4" fill="#000" font-family="Liberation Sans, sans-serif">0.5</text>
<circle cx="607.6" cy="206.0" r="5.9" fill="none" stroke="#1A1A1A" stroke-width="0.75"/>
<text x="621.6" y="208.30" font-size="6.4" fill="#000" font-family="Liberation Sans, sans-serif">0.3</text>
<circle cx="647.6" cy="206.0" r="8.2" fill="none" stroke="#1A1A1A" stroke-width="0.75"/>
<text x="664.8" y="208.30" font-size="6.4" fill="#000" font-family="Liberation Sans, sans-serif">0.6</text>
<rect x="102.8" y="292.2" width="440.20" height="281.90" fill="#EAECEB"/>
<line x1="173.05" y1="292.2" x2="173.05" y2="574.1" stroke="#FFFFFF" stroke-width="0.55"/>
<line x1="272.95" y1="292.2" x2="272.95" y2="574.1" stroke="#FFFFFF" stroke-width="0.55"/>
<line x1="372.85" y1="292.2" x2="372.85" y2="574.1" stroke="#FFFFFF" stroke-width="0.55"/>
<line x1="472.75" y1="292.2" x2="472.75" y2="574.1" stroke="#FFFFFF" stroke-width="0.55"/>
<line x1="102.8" y1="554.6" x2="543.0" y2="554.6" stroke="#FFFFFF" stroke-width="0.55"/>
<line x1="102.8" y1="460.4" x2="543.0" y2="460.4" stroke="#FFFFFF" stroke-width="0.55"/>
<line x1="102.8" y1="366.2" x2="543.0" y2="366.2" stroke="#FFFFFF" stroke-width="0.55"/>
<line x1="123.10" y1="292.2" x2="123.10" y2="574.1" stroke="#FFFFFF" stroke-width="1.1"/>
<line x1="223.00" y1="292.2" x2="223.00" y2="574.1" stroke="#FFFFFF" stroke-width="1.1"/>
<line x1="322.90" y1="292.2" x2="322.90" y2="574.1" stroke="#FFFFFF" stroke-width="1.1"/>
<line x1="422.80" y1="292.2" x2="422.80" y2="574.1" stroke="#FFFFFF" stroke-width="1.1"/>
<line x1="522.70" y1="292.2" x2="522.70" y2="574.1" stroke="#FFFFFF" stroke-width="1.1"/>
<line x1="102.8" y1="507.5" x2="543.0" y2="507.5" stroke="#FFFFFF" stroke-width="1.1"/>
<line x1="102.8" y1="413.3" x2="543.0" y2="413.3" stroke="#FFFFFF" stroke-width="1.1"/>
<line x1="102.8" y1="319.2" x2="543.0" y2="319.2" stroke="#FFFFFF" stroke-width="1.1"/>
<path d="M133.09,488.00 L137.53,488.11 L141.97,488.23 L146.41,488.34 L150.85,488.46 L155.29,488.57 L159.73,488.68 L164.17,488.79 L168.61,488.90 L173.05,489.00 L177.21,489.10 L181.38,489.20 L185.54,489.31 L189.70,489.42 L193.86,489.53 L198.03,489.64 L202.19,489.74 L206.35,489.82 L210.51,489.90 L214.68,489.95 L218.84,489.99 L223.00,490.00 L228.00,488.60 L232.99,487.00 L237.08,486.71 L241.16,486.45 L245.25,486.22 L249.34,486.02 L253.42,485.85 L257.51,485.70 L261.60,485.57 L265.68,485.45 L269.77,485.35 L273.86,485.27 L277.94,485.18 L282.03,485.11 L286.12,485.04 L290.21,484.96 L294.29,484.89 L298.38,484.80 L302.47,484.71 L306.55,484.60 L310.64,484.48 L314.73,484.34 L318.81,484.18 L322.90,484.00 L327.06,483.78 L331.22,483.51 L335.39,483.20 L339.55,482.85 L343.71,482.47 L347.88,482.07 L352.04,481.64 L356.20,481.19 L360.36,480.73 L364.52,480.26 L368.69,479.78 L372.85,479.31 L377.01,478.83 L381.17,478.36 L385.34,477.90 L389.50,477.46 L393.66,477.04 L397.82,476.64 L401.99,476.27 L406.15,475.93 L410.31,475.63 L414.47,475.38 L418.64,475.16 L422.80,475.00 L426.96,474.87 L431.12,474.74 L435.29,474.63 L439.45,474.52 L443.61,474.42 L447.77,474.32 L451.94,474.23 L456.10,474.14 L460.26,474.06 L464.43,473.99 L468.59,473.91 L472.75,473.84 L476.91,473.77 L481.07,473.70 L485.24,473.64 L489.40,473.57 L493.56,473.51 L497.73,473.44 L501.89,473.37 L506.05,473.30 L510.21,473.23 L514.38,473.16 L518.54,473.08 L522.70,473.00 L522.70,488.00 L518.54,488.08 L514.38,488.16 L510.21,488.23 L506.05,488.30 L501.89,488.37 L497.73,488.44 L493.56,488.50 L489.40,488.57 L485.24,488.63 L481.07,488.70 L476.91,488.76 L472.75,488.83 L468.59,488.90 L464.43,488.98 L460.26,489.05 L456.10,489.14 L451.94,489.22 L447.77,489.31 L443.61,489.41 L439.45,489.51 L435.29,489.62 L431.12,489.74 L426.96,489.87 L422.80,490.00 L418.64,490.16 L414.47,490.37 L410.31,490.63 L406.15,490.92 L401.99,491.26 L397.82,491.62 L393.66,492.02 L389.50,492.44 L385.34,492.88 L381.17,493.35 L377.01,493.83 L372.85,494.33 L368.69,494.83 L364.52,495.34 L360.36,495.85 L356.20,496.36 L352.04,496.87 L347.88,497.37 L343.71,497.85 L339.55,498.33 L335.39,498.78 L331.22,499.21 L327.06,499.62 L322.90,500.00 L318.81,500.34 L314.73,500.65 L310.64,500.94 L306.55,501.21 L302.47,501.46 L298.38,501.70 L294.29,501.93 L290.21,502.15 L286.12,502.37 L282.03,502.60 L277.94,502.83 L273.86,503.08 L269.77,503.34 L265.68,503.62 L261.60,503.92 L257.51,504.24 L253.42,504.60 L249.34,505.00 L245.25,505.43 L241.16,505.91 L237.08,506.43 L232.99,507.00 L228.00,508.68 L223.00,510.00 L218.91,509.98 L214.83,509.94 L210.74,509.86 L206.65,509.76 L202.57,509.63 L198.48,509.49 L194.39,509.32 L190.31,509.13 L186.22,508.94 L182.13,508.72 L178.05,508.50 L173.96,508.27 L169.87,508.03 L165.78,507.79 L161.70,507.55 L157.61,507.31 L153.52,507.07 L149.44,506.84 L145.35,506.61 L141.26,506.39 L137.18,506.19 L133.09,506.00 Z" fill="#F8766D" fill-opacity="0.2" stroke="none"/>
<path d="M133.09,505.00 L137.28,505.15 L141.46,505.31 L145.65,505.48 L149.84,505.66 L154.02,505.84 L158.21,506.03 L162.39,506.22 L166.58,506.41 L170.77,506.60 L174.95,506.78 L179.14,506.96 L183.33,507.13 L187.51,507.30 L191.70,507.44 L195.88,507.58 L200.07,507.70 L204.26,507.80 L208.44,507.89 L212.63,507.95 L216.82,507.99 L221.00,508.00 L227.00,502.33 L232.99,495.00 L237.43,492.76 L241.87,490.89 L246.31,489.33 L250.75,488.00 L255.19,486.81 L259.63,485.70 L264.07,484.58 L268.51,483.37 L272.95,482.00 L277.11,480.60 L281.27,479.17 L285.44,477.73 L289.60,476.27 L293.76,474.81 L297.92,473.34 L302.09,471.89 L306.25,470.45 L310.41,469.04 L314.57,467.65 L318.74,466.30 L322.90,465.00 L327.06,463.72 L331.22,462.46 L335.39,461.20 L339.55,459.96 L343.71,458.74 L347.88,457.54 L352.04,456.37 L356.20,455.22 L360.36,454.11 L364.53,453.03 L368.69,451.99 L372.85,451.00 L377.01,450.03 L381.18,449.06 L385.34,448.11 L389.50,447.17 L393.66,446.26 L397.82,445.37 L401.99,444.53 L406.15,443.72 L410.31,442.95 L414.47,442.24 L418.64,441.59 L422.80,441.00 L426.96,440.46 L431.12,439.96 L435.29,439.49 L439.45,439.05 L443.61,438.62 L447.77,438.22 L451.94,437.84 L456.10,437.46 L460.26,437.09 L464.43,436.73 L468.59,436.37 L472.75,436.00 L476.91,435.64 L481.07,435.28 L485.24,434.94 L489.40,434.60 L493.56,434.27 L497.73,433.94 L501.89,433.62 L506.05,433.30 L510.21,432.98 L514.38,432.66 L518.54,432.33 L522.70,432.00 L522.70,456.00 L518.54,456.33 L514.38,456.66 L510.21,456.98 L506.05,457.30 L501.89,457.62 L497.73,457.94 L493.56,458.27 L489.40,458.60 L485.24,458.94 L481.07,459.28 L476.91,459.64 L472.75,460.00 L468.59,460.37 L464.43,460.74 L460.26,461.12 L456.10,461.50 L451.94,461.89 L447.77,462.29 L443.61,462.70 L439.45,463.12 L435.29,463.56 L431.12,464.02 L426.96,464.50 L422.80,465.00 L418.64,465.53 L414.47,466.08 L410.31,466.67 L406.15,467.27 L401.99,467.91 L397.82,468.57 L393.66,469.25 L389.50,469.96 L385.34,470.69 L381.18,471.44 L377.01,472.21 L372.85,473.00 L368.69,473.83 L364.53,474.70 L360.36,475.62 L356.20,476.58 L352.04,477.57 L347.88,478.58 L343.71,479.63 L339.55,480.69 L335.39,481.76 L331.22,482.84 L327.06,483.92 L322.90,485.00 L318.74,486.10 L314.57,487.23 L310.41,488.39 L306.25,489.57 L302.09,490.76 L297.92,491.97 L293.76,493.17 L289.60,494.38 L285.44,495.56 L281.27,496.74 L277.11,497.88 L272.95,499.00 L268.51,500.11 L264.07,501.11 L259.63,502.06 L255.19,502.99 L250.75,503.95 L246.31,504.99 L241.87,506.15 L237.43,507.47 L232.99,509.00 L229.49,510.42 L226.00,512.70 L223.50,518.14 L221.00,522.50 L216.21,522.29 L211.41,521.73 L206.62,520.96 L201.82,520.11 L197.03,519.30 L192.53,518.45 L188.03,517.46 L183.54,516.57 L179.04,516.00 L174.71,515.70 L170.39,515.44 L166.06,515.22 L161.73,515.05 L157.40,514.94 L153.07,514.90 L148.07,515.13 L143.08,515.69 L138.09,516.38 L133.09,517.00 Z" fill="#E38900" fill-opacity="0.2" stroke="none"/>
<path d="M133.09,494.00 L137.18,494.00 L141.26,494.00 L145.35,494.00 L149.44,494.00 L153.52,494.00 L157.61,494.00 L161.70,494.00 L165.78,494.00 L169.87,494.00 L173.96,494.00 L178.05,494.00 L182.13,494.00 L186.22,494.00 L190.31,494.00 L194.39,494.00 L198.48,494.00 L202.57,494.00 L206.65,494.00 L210.74,494.00 L214.83,494.00 L218.91,494.00 L223.00,494.00 L227.16,493.98 L231.32,493.93 L235.49,493.85 L239.65,493.73 L243.81,493.59 L247.97,493.43 L252.14,493.24 L256.30,493.03 L260.46,492.81 L264.62,492.57 L268.79,492.32 L272.95,492.06 L277.11,491.79 L281.27,491.51 L285.44,491.23 L289.60,490.95 L293.76,490.68 L297.92,490.41 L302.09,490.14 L306.25,489.88 L310.41,489.64 L314.57,489.41 L318.74,489.20 L322.90,489.00 L327.06,488.82 L331.22,488.63 L335.39,488.45 L339.55,488.27 L343.71,488.09 L347.88,487.91 L352.04,487.73 L356.20,487.56 L360.36,487.38 L364.52,487.21 L368.69,487.04 L372.85,486.87 L377.01,486.71 L381.17,486.54 L385.34,486.38 L389.50,486.22 L393.66,486.06 L397.82,485.90 L401.99,485.74 L406.15,485.59 L410.31,485.44 L414.47,485.29 L418.64,485.14 L422.80,485.00 L426.96,484.86 L431.12,484.72 L435.29,484.58 L439.45,484.45 L443.61,484.32 L447.77,484.19 L451.94,484.06 L456.10,483.94 L460.26,483.81 L464.43,483.69 L468.59,483.57 L472.75,483.45 L476.91,483.33 L481.07,483.21 L485.24,483.09 L489.40,482.97 L493.56,482.85 L497.73,482.73 L501.89,482.61 L506.05,482.49 L510.21,482.37 L514.38,482.25 L518.54,482.12 L522.70,482.00 L522.70,498.00 L518.54,498.04 L514.38,498.08 L510.21,498.12 L506.05,498.16 L501.89,498.20 L497.73,498.23 L493.56,498.27 L489.40,498.31 L485.24,498.35 L481.07,498.38 L476.91,498.42 L472.75,498.46 L468.59,498.50 L464.43,498.54 L460.26,498.58 L456.10,498.62 L451.94,498.66 L447.77,498.70 L443.61,498.75 L439.45,498.79 L435.29,498.84 L431.12,498.89 L426.96,498.95 L422.80,499.00 L418.64,499.06 L414.47,499.11 L410.31,499.17 L406.15,499.23 L401.99,499.29 L397.82,499.35 L393.66,499.41 L389.50,499.47 L385.34,499.54 L381.17,499.61 L377.01,499.68 L372.85,499.76 L368.69,499.84 L364.52,499.92 L360.36,500.00 L356.20,500.10 L352.04,500.19 L347.88,500.29 L343.71,500.39 L339.55,500.50 L335.39,500.62 L331.22,500.74 L327.06,500.87 L322.90,501.00 L318.74,501.17 L314.57,501.41 L310.41,501.70 L306.25,502.05 L302.09,502.44 L297.92,502.87 L293.76,503.33 L289.60,503.82 L285.44,504.33 L281.27,504.85 L277.11,505.38 L272.95,505.91 L268.79,506.43 L264.62,506.95 L260.46,507.44 L256.30,507.91 L252.14,508.35 L247.97,508.75 L243.81,509.10 L239.65,509.41 L235.49,509.66 L231.32,509.84 L227.16,509.96 L223.00,510.00 L218.91,510.00 L214.83,509.98 L210.74,509.97 L206.65,509.94 L202.57,509.91 L198.48,509.87 L194.39,509.83 L190.31,509.78 L186.22,509.73 L182.13,509.68 L178.05,509.62 L173.96,509.57 L169.87,509.51 L165.78,509.45 L161.70,509.39 L157.61,509.33 L153.52,509.27 L149.44,509.21 L145.35,509.15 L141.26,509.10 L137.18,509.05 L133.09,509.00 Z" fill="#C49A00" fill-opacity="0.2" stroke="none"/>
<path d="M133.09,458.00 L137.18,458.04 L141.26,458.09 L145.35,458.13 L149.44,458.17 L153.52,458.21 L157.61,458.25 L161.70,458.29 L165.78,458.33 L169.87,458.36 L173.96,458.40 L178.05,458.44 L182.13,458.48 L186.22,458.53 L190.31,458.57 L194.39,458.62 L198.48,458.66 L202.57,458.71 L206.65,458.76 L210.74,458.82 L214.83,458.88 L218.91,458.94 L223.00,459.00 L227.16,459.07 L231.32,459.16 L235.49,459.26 L239.65,459.37 L243.81,459.49 L247.97,459.62 L252.14,459.76 L256.30,459.90 L260.46,460.05 L264.62,460.20 L268.79,460.36 L272.95,460.51 L277.11,460.67 L281.27,460.82 L285.44,460.97 L289.60,461.12 L293.76,461.26 L297.92,461.40 L302.09,461.52 L306.25,461.64 L310.41,461.75 L314.57,461.85 L318.74,461.93 L322.90,462.00 L327.06,462.06 L331.22,462.12 L335.39,462.19 L339.55,462.25 L343.71,462.31 L347.88,462.37 L352.04,462.43 L356.20,462.48 L360.36,462.54 L364.52,462.59 L368.69,462.64 L372.85,462.69 L377.01,462.73 L381.17,462.78 L385.34,462.82 L389.50,462.85 L393.66,462.88 L397.82,462.91 L401.99,462.94 L406.15,462.96 L410.31,462.98 L414.47,462.99 L418.64,463.00 L422.80,463.00 L426.96,463.00 L431.12,463.00 L435.29,463.00 L439.45,463.00 L443.61,463.00 L447.77,463.00 L451.94,463.00 L456.10,463.00 L460.26,463.00 L464.43,463.00 L468.59,463.00 L472.75,463.00 L476.91,463.00 L481.07,463.00 L485.24,463.00 L489.40,463.00 L493.56,463.00 L497.73,463.00 L501.89,463.00 L506.05,463.00 L510.21,463.00 L514.38,463.00 L518.54,463.00 L522.70,463.00 L522.70,483.00 L518.54,482.92 L514.38,482.84 L510.21,482.76 L506.05,482.68 L501.89,482.60 L497.73,482.52 L493.56,482.44 L489.40,482.36 L485.24,482.29 L481.07,482.21 L476.91,482.13 L472.75,482.05 L468.59,481.97 L464.43,481.89 L460.26,481.81 L456.10,481.73 L451.94,481.64 L447.77,481.56 L443.61,481.47 L439.45,481.38 L435.29,481.29 L431.12,481.19 L426.96,481.10 L422.80,481.00 L418.64,480.90 L414.47,480.79 L410.31,480.67 L406.15,480.56 L401.99,480.43 L397.82,480.31 L393.66,480.18 L389.50,480.04 L385.34,479.91 L381.17,479.77 L377.01,479.64 L372.85,479.50 L368.69,479.36 L364.52,479.23 L360.36,479.09 L356.20,478.96 L352.04,478.82 L347.88,478.69 L343.71,478.57 L339.55,478.44 L335.39,478.33 L331.22,478.21 L327.06,478.10 L322.90,478.00 L318.74,477.90 L314.57,477.80 L310.41,477.70 L306.25,477.61 L302.09,477.51 L297.92,477.42 L293.76,477.32 L289.60,477.23 L285.44,477.14 L281.27,477.05 L277.11,476.96 L272.95,476.88 L268.79,476.79 L264.62,476.71 L260.46,476.63 L256.30,476.55 L252.14,476.47 L247.97,476.40 L243.81,476.33 L239.65,476.26 L235.49,476.19 L231.32,476.12 L227.16,476.06 L223.00,476.00 L218.91,475.94 L214.83,475.89 L210.74,475.84 L206.65,475.78 L202.57,475.73 L198.48,475.69 L194.39,475.64 L190.31,475.60 L186.22,475.55 L182.13,475.51 L178.05,475.47 L173.96,475.42 L169.87,475.38 L165.78,475.34 L161.70,475.30 L157.61,475.26 L153.52,475.22 L149.44,475.17 L145.35,475.13 L141.26,475.09 L137.18,475.04 L133.09,475.00 Z" fill="#99A800" fill-opacity="0.2" stroke="none"/>
<path d="M133.09,484.00 L137.53,482.81 L141.97,481.67 L146.41,480.56 L150.85,479.44 L155.29,478.30 L159.73,477.12 L164.17,475.85 L168.61,474.49 L173.05,473.00 L178.05,470.95 L183.04,468.54 L188.03,466.10 L193.03,464.00 L197.31,462.62 L201.59,461.51 L205.87,460.52 L210.16,459.52 L214.44,458.36 L218.72,456.90 L223.00,455.00 L228.00,450.05 L232.99,445.00 L237.43,442.73 L241.87,440.76 L246.31,439.04 L250.75,437.54 L255.19,436.22 L259.63,435.04 L264.07,433.97 L268.51,432.97 L272.95,432.00 L277.11,431.12 L281.27,430.27 L285.44,429.47 L289.60,428.71 L293.76,427.99 L297.92,427.31 L302.09,426.67 L306.25,426.06 L310.41,425.49 L314.57,424.96 L318.74,424.46 L322.90,424.00 L327.06,423.55 L331.22,423.09 L335.39,422.62 L339.55,422.17 L343.71,421.74 L347.88,421.33 L352.04,420.96 L356.20,420.64 L360.36,420.38 L364.53,420.17 L368.69,420.04 L372.85,420.00 L377.01,420.02 L381.18,420.08 L385.34,420.17 L389.50,420.30 L393.66,420.45 L397.82,420.62 L401.99,420.82 L406.15,421.04 L410.31,421.27 L414.47,421.50 L418.64,421.75 L422.80,422.00 L426.96,422.30 L431.12,422.68 L435.29,423.13 L439.45,423.64 L443.61,424.20 L447.77,424.77 L451.94,425.37 L456.10,425.96 L460.26,426.53 L464.43,427.07 L468.59,427.56 L472.75,428.00 L476.91,428.39 L481.07,428.76 L485.24,429.11 L489.40,429.45 L493.56,429.78 L497.73,430.10 L501.89,430.41 L506.05,430.73 L510.21,431.04 L514.38,431.35 L518.54,431.67 L522.70,432.00 L522.70,497.00 L518.54,496.28 L514.38,495.54 L510.21,494.78 L506.05,494.00 L501.89,493.21 L497.73,492.42 L493.56,491.61 L489.40,490.81 L485.24,490.00 L481.07,489.20 L476.91,488.40 L472.75,487.61 L468.59,486.84 L464.43,486.08 L460.26,485.34 L456.10,484.62 L451.94,483.92 L447.77,483.25 L443.61,482.62 L439.45,482.01 L435.29,481.45 L431.12,480.92 L426.96,480.44 L422.80,480.00 L418.64,479.59 L414.47,479.17 L410.31,478.75 L406.15,478.33 L401.99,477.92 L397.82,477.51 L393.66,477.11 L389.50,476.72 L385.34,476.33 L381.17,475.96 L377.01,475.60 L372.85,475.26 L368.69,474.94 L364.52,474.63 L360.36,474.34 L356.20,474.08 L352.04,473.84 L347.88,473.63 L343.71,473.44 L339.55,473.29 L335.39,473.17 L331.22,473.07 L327.06,473.02 L322.90,473.00 L318.74,473.01 L314.57,473.05 L310.41,473.10 L306.25,473.18 L302.09,473.26 L297.92,473.36 L293.76,473.47 L289.60,473.58 L285.44,473.69 L281.27,473.80 L277.11,473.90 L272.95,474.00 L268.51,474.11 L264.07,474.25 L259.63,474.39 L255.19,474.54 L250.75,474.68 L246.31,474.81 L241.87,474.91 L237.43,474.98 L232.99,475.00 L228.00,472.00 L223.00,469.00 L218.72,469.23 L214.44,469.86 L210.16,470.81 L205.87,471.99 L201.59,473.30 L197.31,474.67 L193.03,476.00 L188.03,477.78 L183.04,479.92 L178.05,482.10 L173.05,484.00 L168.61,485.43 L164.17,486.76 L159.73,488.01 L155.29,489.21 L150.85,490.36 L146.41,491.50 L141.97,492.64 L137.53,493.80 L133.09,495.00 Z" fill="#53B400" fill-opacity="0.2" stroke="none"/>
<path d="M133.09,319.50 L137.18,320.30 L141.26,321.10 L145.35,321.90 L149.44,322.71 L153.52,323.52 L157.61,324.34 L161.70,325.15 L165.78,325.96 L169.87,326.77 L173.96,327.58 L178.05,328.39 L182.13,329.20 L186.22,330.01 L190.31,330.81 L194.39,331.60 L198.48,332.39 L202.57,333.18 L206.65,333.96 L210.74,334.73 L214.83,335.50 L218.91,336.25 L223.00,337.00 L227.16,337.75 L231.32,338.50 L235.49,339.24 L239.65,339.97 L243.81,340.70 L247.97,341.42 L252.14,342.14 L256.30,342.85 L260.46,343.56 L264.62,344.27 L268.79,344.97 L272.95,345.67 L277.11,346.37 L281.27,347.06 L285.44,347.76 L289.60,348.45 L293.76,349.14 L297.92,349.83 L302.09,350.52 L306.25,351.22 L310.41,351.91 L314.57,352.60 L318.74,353.30 L322.90,354.00 L327.06,354.70 L331.22,355.40 L335.39,356.10 L339.55,356.80 L343.71,357.51 L347.88,358.21 L352.04,358.91 L356.20,359.61 L360.36,360.31 L364.52,361.01 L368.69,361.71 L372.85,362.40 L377.01,363.10 L381.17,363.79 L385.34,364.48 L389.50,365.17 L393.66,365.86 L397.82,366.55 L401.99,367.23 L406.15,367.91 L410.31,368.59 L414.47,369.26 L418.64,369.93 L422.80,370.60 L426.96,371.26 L431.12,371.92 L435.29,372.58 L439.45,373.23 L443.61,373.88 L447.77,374.53 L451.94,375.18 L456.10,375.82 L460.26,376.46 L464.43,377.10 L468.59,377.74 L472.75,378.37 L476.91,379.01 L481.07,379.64 L485.24,380.28 L489.40,380.91 L493.56,381.54 L497.73,382.18 L501.89,382.81 L506.05,383.45 L510.21,384.08 L514.38,384.72 L518.54,385.36 L522.70,386.00 L522.70,436.00 L518.54,435.54 L514.38,435.10 L510.21,434.66 L506.05,434.22 L501.89,433.80 L497.73,433.38 L493.56,432.96 L489.40,432.54 L485.24,432.12 L481.07,431.70 L476.91,431.28 L472.75,430.85 L468.59,430.42 L464.43,429.98 L460.26,429.53 L456.10,429.08 L451.94,428.61 L447.77,428.13 L443.61,427.63 L439.45,427.12 L435.29,426.59 L431.12,426.05 L426.96,425.49 L422.80,424.90 L418.67,424.29 L414.55,423.65 L410.42,422.98 L406.29,422.28 L402.17,421.56 L398.04,420.81 L393.92,420.03 L389.79,419.24 L385.66,418.42 L381.54,417.59 L377.41,416.74 L373.28,415.88 L369.16,415.00 L365.03,414.11 L360.91,413.21 L356.78,412.31 L352.65,411.39 L348.53,410.48 L344.40,409.56 L340.27,408.64 L336.15,407.72 L332.02,406.81 L327.89,405.90 L323.23,404.80 L318.57,403.61 L313.91,402.38 L309.25,401.21 L304.58,400.16 L299.92,399.30 L295.82,398.69 L291.71,398.14 L287.60,397.64 L283.50,397.18 L279.39,396.75 L275.28,396.33 L271.17,395.91 L267.07,395.47 L262.96,395.00 L258.68,394.53 L254.40,394.11 L250.12,393.69 L245.83,393.25 L241.55,392.75 L237.27,392.14 L232.99,391.40 L228.00,389.60 L223.00,388.00 L218.72,387.57 L214.44,387.24 L210.16,386.99 L205.87,386.79 L201.59,386.61 L197.31,386.42 L193.03,386.20 L188.75,385.95 L184.47,385.70 L180.19,385.46 L175.90,385.21 L171.62,384.97 L167.34,384.73 L163.06,384.49 L158.78,384.25 L154.50,384.01 L150.22,383.77 L145.93,383.52 L141.65,383.28 L137.37,383.04 L133.09,382.80 Z" fill="#00BC56" fill-opacity="0.2" stroke="none"/>
<path d="M133.09,406.00 L137.18,406.38 L141.26,406.75 L145.35,407.14 L149.44,407.52 L153.52,407.91 L157.61,408.30 L161.70,408.69 L165.78,409.08 L169.87,409.47 L173.96,409.86 L178.05,410.25 L182.13,410.63 L186.22,411.01 L190.31,411.39 L194.39,411.76 L198.48,412.13 L202.57,412.50 L206.65,412.85 L210.74,413.20 L214.83,413.54 L218.91,413.88 L223.00,414.20 L227.16,414.52 L231.32,414.83 L235.49,415.12 L239.65,415.41 L243.81,415.69 L247.97,415.97 L252.14,416.23 L256.30,416.50 L260.46,416.76 L264.62,417.01 L268.79,417.27 L272.95,417.53 L277.11,417.78 L281.27,418.04 L285.44,418.30 L289.60,418.57 L293.76,418.84 L297.92,419.12 L302.09,419.41 L306.25,419.70 L310.41,420.01 L314.57,420.33 L318.74,420.66 L322.90,421.00 L327.06,421.36 L331.22,421.73 L335.39,422.11 L339.55,422.50 L343.71,422.91 L347.88,423.32 L352.04,423.75 L356.20,424.18 L360.36,424.63 L364.52,425.08 L368.69,425.54 L372.85,426.01 L377.01,426.49 L381.17,426.97 L385.34,427.45 L389.50,427.95 L393.66,428.44 L397.82,428.94 L401.99,429.45 L406.15,429.95 L410.31,430.46 L414.47,430.97 L418.64,431.49 L422.80,432.00 L426.96,432.52 L431.12,433.05 L435.29,433.59 L439.45,434.14 L443.61,434.70 L447.77,435.26 L451.94,435.84 L456.10,436.42 L460.26,437.00 L464.43,437.60 L468.59,438.19 L472.75,438.79 L476.91,439.39 L481.07,440.00 L485.24,440.60 L489.40,441.21 L493.56,441.82 L497.73,442.42 L501.89,443.03 L506.05,443.63 L510.21,444.23 L514.38,444.82 L518.54,445.41 L522.70,446.00 L522.70,486.00 L518.54,485.41 L514.38,484.83 L510.21,484.24 L506.05,483.64 L501.89,483.05 L497.73,482.45 L493.56,481.85 L489.40,481.25 L485.24,480.66 L481.07,480.06 L476.91,479.46 L472.75,478.87 L468.59,478.27 L464.43,477.68 L460.26,477.09 L456.10,476.51 L451.94,475.93 L447.77,475.35 L443.61,474.78 L439.45,474.21 L435.29,473.65 L431.12,473.09 L426.96,472.54 L422.80,472.00 L418.64,471.46 L414.47,470.92 L410.31,470.38 L406.15,469.84 L401.99,469.30 L397.82,468.76 L393.66,468.22 L389.50,467.69 L385.34,467.15 L381.17,466.63 L377.01,466.10 L372.85,465.58 L368.69,465.07 L364.52,464.57 L360.36,464.07 L356.20,463.58 L352.04,463.09 L347.88,462.62 L343.71,462.15 L339.55,461.70 L335.39,461.26 L331.22,460.83 L327.06,460.41 L322.90,460.00 L318.74,459.60 L314.57,459.21 L310.41,458.82 L306.25,458.44 L302.09,458.06 L297.92,457.69 L293.76,457.32 L289.60,456.96 L285.44,456.61 L281.27,456.26 L277.11,455.91 L272.95,455.58 L268.79,455.24 L264.62,454.92 L260.46,454.60 L256.30,454.28 L252.14,453.98 L247.97,453.67 L243.81,453.38 L239.65,453.09 L235.49,452.81 L231.32,452.53 L227.16,452.26 L223.00,452.00 L218.91,451.75 L214.83,451.51 L210.74,451.27 L206.65,451.04 L202.57,450.82 L198.48,450.60 L194.39,450.39 L190.31,450.18 L186.22,449.98 L182.13,449.77 L178.05,449.58 L173.96,449.38 L169.87,449.18 L165.78,448.99 L161.70,448.80 L157.61,448.60 L153.52,448.41 L149.44,448.21 L145.35,448.01 L141.26,447.81 L137.18,447.61 L133.09,447.40 Z" fill="#00C094" fill-opacity="0.2" stroke="none"/>
<path d="M133.09,552.00 L138.09,551.78 L143.08,551.59 L148.07,551.35 L153.07,551.00 L158.56,550.16 L164.06,548.80 L169.39,546.93 L174.72,544.40 L180.04,541.50 L184.29,538.80 L188.53,535.63 L192.78,532.28 L197.03,529.00 L202.35,525.11 L207.68,521.18 L213.01,517.00 L218.00,512.37 L223.00,508.00 L228.00,504.73 L232.99,502.00 L237.99,499.71 L242.98,497.69 L247.97,495.70 L252.47,493.88 L256.97,492.11 L261.46,490.36 L265.96,488.58 L270.45,486.74 L274.95,484.80 L279.94,482.47 L284.94,479.98 L289.93,477.46 L294.93,475.00 L299.59,472.74 L304.25,470.44 L308.91,468.16 L313.58,465.96 L318.24,463.89 L322.90,462.00 L327.30,460.35 L331.69,458.77 L336.09,457.30 L340.48,455.97 L344.88,454.80 L349.37,453.73 L353.87,452.71 L358.36,451.75 L362.86,450.86 L367.36,450.03 L371.85,449.28 L376.35,448.60 L380.84,448.00 L384.90,447.50 L388.95,447.01 L393.01,446.52 L397.06,446.05 L401.12,445.60 L405.17,445.15 L409.23,444.73 L413.28,444.33 L417.33,443.95 L421.39,443.60 L425.44,443.27 L429.50,442.97 L433.55,442.70 L437.61,442.47 L441.66,442.28 L445.72,442.12 L449.77,442.00 L453.82,441.91 L457.88,441.82 L461.93,441.75 L465.98,441.68 L470.03,441.62 L474.08,441.56 L478.13,441.50 L482.19,441.45 L486.24,441.41 L490.29,441.36 L494.34,441.32 L498.39,441.28 L502.44,441.24 L506.49,441.19 L510.55,441.15 L514.60,441.10 L518.65,441.05 L522.70,441.00 L522.70,459.60 L518.65,459.62 L514.60,459.64 L510.55,459.66 L506.49,459.68 L502.44,459.69 L498.39,459.71 L494.34,459.72 L490.29,459.74 L486.24,459.76 L482.19,459.77 L478.13,459.79 L474.08,459.82 L470.03,459.84 L465.98,459.86 L461.93,459.89 L457.88,459.93 L453.82,459.96 L449.77,460.00 L445.72,460.06 L441.66,460.16 L437.61,460.29 L433.55,460.45 L429.50,460.64 L425.44,460.86 L421.39,461.10 L417.33,461.37 L413.28,461.67 L409.23,461.98 L405.17,462.31 L401.12,462.66 L397.06,463.03 L393.01,463.41 L388.95,463.80 L384.90,464.19 L380.84,464.60 L376.35,465.10 L371.85,465.69 L367.36,466.36 L362.86,467.11 L358.36,467.94 L353.87,468.83 L349.37,469.79 L344.88,470.80 L340.48,471.95 L336.09,473.32 L331.69,474.83 L327.30,476.41 L322.90,478.00 L318.24,479.71 L313.58,481.52 L308.91,483.38 L304.25,485.26 L299.59,487.15 L294.93,489.00 L289.93,490.98 L284.94,492.98 L279.94,494.94 L274.95,496.80 L270.45,498.35 L265.96,499.80 L261.46,501.20 L256.97,502.62 L252.47,504.10 L247.97,505.70 L242.98,507.61 L237.99,509.67 L232.99,512.00 L228.00,514.77 L223.00,518.00 L218.00,521.89 L213.01,526.00 L207.68,530.11 L202.35,534.12 L197.03,538.00 L192.78,541.06 L188.53,544.11 L184.29,546.97 L180.04,549.50 L174.72,552.36 L169.39,554.91 L164.06,556.80 L158.56,558.16 L153.07,559.00 L148.07,559.35 L143.08,559.59 L138.09,559.78 L133.09,560.00 Z" fill="#00BFC4" fill-opacity="0.2" stroke="none"/>
<path d="M133.09,456.00 L137.18,456.04 L141.26,456.09 L145.35,456.13 L149.44,456.17 L153.52,456.21 L157.61,456.24 L161.70,456.28 L165.78,456.32 L169.87,456.35 L173.96,456.39 L178.05,456.43 L182.13,456.47 L186.22,456.51 L190.31,456.56 L194.39,456.60 L198.48,456.65 L202.57,456.70 L206.65,456.75 L210.74,456.81 L214.83,456.87 L218.91,456.93 L223.00,457.00 L227.16,457.08 L231.32,457.18 L235.49,457.29 L239.65,457.42 L243.81,457.56 L247.97,457.71 L252.14,457.87 L256.30,458.04 L260.46,458.22 L264.62,458.40 L268.79,458.59 L272.95,458.79 L277.11,458.98 L281.27,459.18 L285.44,459.38 L289.60,459.58 L293.76,459.78 L297.92,459.97 L302.09,460.16 L306.25,460.35 L310.41,460.52 L314.57,460.69 L318.74,460.85 L322.90,461.00 L327.06,461.14 L331.22,461.28 L335.39,461.42 L339.55,461.55 L343.71,461.68 L347.88,461.81 L352.04,461.94 L356.20,462.06 L360.36,462.19 L364.52,462.31 L368.69,462.43 L372.85,462.55 L377.01,462.67 L381.17,462.79 L385.34,462.91 L389.50,463.03 L393.66,463.15 L397.82,463.27 L401.99,463.39 L406.15,463.51 L410.31,463.63 L414.47,463.75 L418.64,463.88 L422.80,464.00 L426.96,464.12 L431.12,464.25 L435.29,464.38 L439.45,464.50 L443.61,464.63 L447.77,464.75 L451.94,464.88 L456.10,465.00 L460.26,465.12 L464.43,465.25 L468.59,465.38 L472.75,465.50 L476.91,465.62 L481.07,465.75 L485.24,465.88 L489.40,466.00 L493.56,466.12 L497.73,466.25 L501.89,466.38 L506.05,466.50 L510.21,466.62 L514.38,466.75 L518.54,466.88 L522.70,467.00 L522.70,486.00 L518.54,485.79 L514.38,485.58 L510.21,485.37 L506.05,485.15 L501.89,484.94 L497.73,484.72 L493.56,484.51 L489.40,484.29 L485.24,484.08 L481.07,483.86 L476.91,483.65 L472.75,483.43 L468.59,483.22 L464.43,483.00 L460.26,482.79 L456.10,482.58 L451.94,482.38 L447.77,482.17 L443.61,481.97 L439.45,481.77 L435.29,481.57 L431.12,481.38 L426.96,481.19 L422.80,481.00 L418.64,480.82 L414.47,480.63 L410.31,480.45 L406.15,480.27 L401.99,480.09 L397.82,479.91 L393.66,479.73 L389.50,479.56 L385.34,479.38 L381.17,479.21 L377.01,479.04 L372.85,478.87 L368.69,478.71 L364.52,478.54 L360.36,478.38 L356.20,478.22 L352.04,478.06 L347.88,477.90 L343.71,477.74 L339.55,477.59 L335.39,477.44 L331.22,477.29 L327.06,477.14 L322.90,477.00 L318.74,476.86 L314.57,476.72 L310.41,476.58 L306.25,476.44 L302.09,476.30 L297.92,476.17 L293.76,476.03 L289.60,475.90 L285.44,475.77 L281.27,475.64 L277.11,475.52 L272.95,475.39 L268.79,475.27 L264.62,475.14 L260.46,475.02 L256.30,474.90 L252.14,474.78 L247.97,474.67 L243.81,474.55 L239.65,474.44 L235.49,474.33 L231.32,474.22 L227.16,474.11 L223.00,474.00 L218.91,473.90 L214.83,473.80 L210.74,473.70 L206.65,473.60 L202.57,473.51 L198.48,473.41 L194.39,473.32 L190.31,473.23 L186.22,473.14 L182.13,473.05 L178.05,472.96 L173.96,472.88 L169.87,472.79 L165.78,472.70 L161.70,472.62 L157.61,472.53 L153.52,472.44 L149.44,472.36 L145.35,472.27 L141.26,472.18 L137.18,472.09 L133.09,472.00 Z" fill="#00B6EB" fill-opacity="0.2" stroke="none"/>
<path d="M133.09,468.00 L137.18,467.76 L141.26,467.51 L145.35,467.24 L149.44,466.96 L153.52,466.66 L157.61,466.37 L161.70,466.06 L165.78,465.76 L169.87,465.46 L173.96,465.16 L178.05,464.88 L182.13,464.60 L186.22,464.33 L190.31,464.08 L194.39,463.85 L198.48,463.64 L202.57,463.46 L206.65,463.30 L210.74,463.17 L214.83,463.08 L218.91,463.02 L223.00,463.00 L227.16,463.00 L231.32,463.01 L235.49,463.02 L239.65,463.04 L243.81,463.06 L247.97,463.09 L252.14,463.12 L256.30,463.15 L260.46,463.19 L264.62,463.23 L268.79,463.27 L272.95,463.31 L277.11,463.36 L281.27,463.41 L285.44,463.47 L289.60,463.52 L293.76,463.58 L297.92,463.63 L302.09,463.69 L306.25,463.75 L310.41,463.81 L314.57,463.88 L318.74,463.94 L322.90,464.00 L326.99,464.06 L331.09,464.13 L335.18,464.20 L339.27,464.28 L343.36,464.36 L347.46,464.45 L351.55,464.54 L355.64,464.63 L359.73,464.73 L363.83,464.84 L367.92,464.94 L372.01,465.06 L376.10,465.17 L380.20,465.29 L384.29,465.42 L388.38,465.55 L392.48,465.68 L396.57,465.82 L400.66,465.96 L404.75,466.11 L408.85,466.26 L412.94,466.42 L417.03,466.58 L421.12,466.74 L425.22,466.91 L429.31,467.08 L433.40,467.26 L437.49,467.44 L441.59,467.62 L445.68,467.81 L449.77,468.00 L453.82,468.21 L457.88,468.44 L461.93,468.71 L465.98,468.99 L470.03,469.30 L474.08,469.62 L478.13,469.96 L482.19,470.32 L486.24,470.68 L490.29,471.05 L494.34,471.43 L498.39,471.81 L502.44,472.19 L506.49,472.57 L510.55,472.94 L514.60,473.31 L518.65,473.66 L522.70,474.00 L522.70,495.00 L518.65,494.49 L514.60,493.96 L510.55,493.41 L506.49,492.85 L502.44,492.29 L498.39,491.72 L494.34,491.15 L490.29,490.58 L486.24,490.02 L482.19,489.48 L478.13,488.95 L474.08,488.44 L470.03,487.95 L465.98,487.49 L461.93,487.06 L457.88,486.67 L453.82,486.31 L449.77,486.00 L445.68,485.71 L441.59,485.44 L437.49,485.18 L433.40,484.92 L429.31,484.68 L425.22,484.44 L421.12,484.21 L417.03,483.99 L412.94,483.78 L408.85,483.58 L404.75,483.38 L400.66,483.19 L396.57,483.00 L392.48,482.82 L388.38,482.64 L384.29,482.47 L380.20,482.30 L376.10,482.13 L372.01,481.97 L367.92,481.81 L363.83,481.64 L359.73,481.48 L355.64,481.32 L351.55,481.17 L347.46,481.00 L343.36,480.84 L339.27,480.68 L335.18,480.51 L331.09,480.35 L326.99,480.17 L322.90,480.00 L318.74,479.81 L314.57,479.62 L310.41,479.41 L306.25,479.20 L302.09,478.99 L297.92,478.77 L293.76,478.55 L289.60,478.32 L285.44,478.10 L281.27,477.88 L277.11,477.67 L272.95,477.46 L268.79,477.26 L264.62,477.07 L260.46,476.89 L256.30,476.72 L252.14,476.56 L247.97,476.42 L243.81,476.30 L239.65,476.20 L235.49,476.11 L231.32,476.05 L227.16,476.01 L223.00,476.00 L218.91,476.02 L214.83,476.09 L210.74,476.21 L206.65,476.36 L202.57,476.55 L198.48,476.77 L194.39,477.02 L190.31,477.30 L186.22,477.60 L182.13,477.92 L178.05,478.25 L173.96,478.60 L169.87,478.95 L165.78,479.31 L161.70,479.68 L157.61,480.04 L153.52,480.40 L149.44,480.75 L145.35,481.09 L141.26,481.41 L137.18,481.72 L133.09,482.00 Z" fill="#06A4FF" fill-opacity="0.2" stroke="none"/>
<path d="M133.09,483.60 L137.18,483.60 L141.26,483.60 L145.35,483.60 L149.44,483.60 L153.52,483.60 L157.61,483.60 L161.70,483.60 L165.78,483.60 L169.87,483.60 L173.96,483.60 L178.05,483.60 L182.13,483.60 L186.22,483.60 L190.31,483.60 L194.39,483.60 L198.48,483.60 L202.57,483.60 L206.65,483.60 L210.74,483.60 L214.83,483.60 L218.91,483.60 L223.00,483.60 L227.16,483.60 L231.32,483.60 L235.49,483.60 L239.65,483.60 L243.81,483.60 L247.97,483.60 L252.14,483.60 L256.30,483.60 L260.46,483.60 L264.62,483.60 L268.79,483.60 L272.95,483.60 L277.11,483.60 L281.27,483.60 L285.44,483.60 L289.60,483.60 L293.76,483.60 L297.92,483.60 L302.09,483.60 L306.25,483.60 L310.41,483.60 L314.57,483.60 L318.74,483.60 L322.90,483.60 L327.06,483.60 L331.22,483.59 L335.39,483.57 L339.55,483.56 L343.71,483.53 L347.88,483.51 L352.04,483.48 L356.20,483.44 L360.36,483.41 L364.52,483.37 L368.69,483.34 L372.85,483.30 L377.01,483.26 L381.17,483.23 L385.34,483.19 L389.50,483.16 L393.66,483.12 L397.82,483.09 L401.99,483.07 L406.15,483.04 L410.31,483.03 L414.47,483.01 L418.64,483.00 L422.80,483.00 L426.96,483.00 L431.12,483.00 L435.29,483.00 L439.45,483.00 L443.61,483.00 L447.77,483.00 L451.94,483.00 L456.10,483.00 L460.26,483.00 L464.43,483.00 L468.59,483.00 L472.75,483.00 L476.91,483.00 L481.07,483.00 L485.24,483.00 L489.40,483.00 L493.56,483.00 L497.73,483.00 L501.89,483.00 L506.05,483.00 L510.21,483.00 L514.38,483.00 L518.54,483.00 L522.70,483.00 L522.70,495.00 L518.54,494.92 L514.38,494.83 L510.21,494.75 L506.05,494.67 L501.89,494.58 L497.73,494.50 L493.56,494.42 L489.40,494.33 L485.24,494.25 L481.07,494.17 L476.91,494.08 L472.75,494.00 L468.59,493.92 L464.43,493.83 L460.26,493.75 L456.10,493.67 L451.94,493.58 L447.77,493.50 L443.61,493.42 L439.45,493.33 L435.29,493.25 L431.12,493.17 L426.96,493.08 L422.80,493.00 L418.64,492.91 L414.47,492.82 L410.31,492.73 L406.15,492.63 L401.99,492.53 L397.82,492.42 L393.66,492.32 L389.50,492.21 L385.34,492.11 L381.17,492.00 L377.01,491.90 L372.85,491.80 L368.69,491.70 L364.52,491.60 L360.36,491.51 L356.20,491.42 L352.04,491.34 L347.88,491.27 L343.71,491.20 L339.55,491.14 L335.39,491.09 L331.22,491.05 L327.06,491.02 L322.90,491.00 L318.74,490.99 L314.57,490.97 L310.41,490.96 L306.25,490.94 L302.09,490.93 L297.92,490.92 L293.76,490.91 L289.60,490.89 L285.44,490.88 L281.27,490.87 L277.11,490.86 L272.95,490.85 L268.79,490.85 L264.62,490.84 L260.46,490.83 L256.30,490.82 L252.14,490.82 L247.97,490.81 L243.81,490.81 L239.65,490.81 L235.49,490.80 L231.32,490.80 L227.16,490.80 L223.00,490.80 L218.91,490.80 L214.83,490.80 L210.74,490.80 L206.65,490.80 L202.57,490.80 L198.48,490.80 L194.39,490.80 L190.31,490.80 L186.22,490.80 L182.13,490.80 L178.05,490.80 L173.96,490.80 L169.87,490.80 L165.78,490.80 L161.70,490.80 L157.61,490.80 L153.52,490.80 L149.44,490.80 L145.35,490.80 L141.26,490.80 L137.18,490.80 L133.09,490.80 Z" fill="#A58AFF" fill-opacity="0.2" stroke="none"/>
<path d="M133.09,450.00 L137.32,450.00 L141.54,450.00 L145.77,450.00 L150.00,450.00 L154.22,450.00 L158.45,450.00 L162.68,450.00 L166.90,450.00 L171.13,450.00 L175.36,450.00 L179.58,450.00 L183.81,450.00 L188.03,450.00 L192.41,448.58 L196.78,444.84 L201.15,439.56 L205.52,433.50 L209.89,427.44 L214.26,422.16 L218.63,418.42 L223.00,417.00 L228.00,419.75 L232.99,422.50 L237.56,422.04 L242.12,420.84 L246.69,419.13 L251.26,417.14 L255.82,415.13 L260.39,413.34 L264.96,412.00 L269.10,411.06 L273.24,410.10 L277.37,409.15 L281.51,408.21 L285.65,407.30 L289.79,406.43 L293.93,405.61 L298.07,404.86 L302.21,404.20 L306.35,403.62 L310.48,403.15 L314.62,402.80 L318.76,402.58 L322.90,402.50 L327.18,402.54 L331.46,402.67 L335.74,402.85 L340.03,403.09 L344.31,403.37 L348.59,403.68 L352.87,404.00 L356.98,404.40 L361.10,404.95 L365.21,405.65 L369.32,406.47 L373.44,407.39 L377.55,408.40 L381.66,409.48 L385.78,410.61 L389.89,411.77 L394.01,412.94 L398.12,414.11 L402.23,415.26 L406.35,416.36 L410.46,417.41 L414.57,418.37 L418.69,419.24 L422.80,420.00 L426.96,420.69 L431.12,421.35 L435.29,421.99 L439.45,422.61 L443.61,423.21 L447.77,423.79 L451.94,424.35 L456.10,424.90 L460.26,425.44 L464.43,425.96 L468.59,426.48 L472.75,426.98 L476.91,427.48 L481.07,427.97 L485.24,428.46 L489.40,428.95 L493.56,429.44 L497.73,429.93 L501.89,430.42 L506.05,430.92 L510.21,431.43 L514.38,431.94 L518.54,432.46 L522.70,433.00 L522.70,512.20 L518.66,511.53 L514.62,510.88 L510.58,510.23 L506.54,509.58 L502.50,508.94 L498.46,508.31 L494.42,507.67 L490.38,507.04 L486.35,506.41 L482.31,505.77 L478.27,505.13 L474.23,504.49 L470.19,503.84 L466.15,503.19 L462.11,502.53 L458.07,501.85 L454.03,501.17 L449.99,500.48 L445.95,499.77 L441.91,499.05 L437.87,498.32 L433.83,497.57 L429.79,496.80 L425.68,495.96 L421.57,495.03 L417.46,494.03 L413.35,492.95 L409.24,491.82 L405.13,490.64 L401.01,489.41 L396.90,488.16 L392.79,486.90 L388.68,485.62 L384.57,484.34 L380.46,483.07 L376.35,481.83 L372.24,480.61 L368.12,479.43 L364.01,478.31 L359.90,477.24 L355.79,476.25 L351.68,475.33 L347.57,474.51 L343.46,473.78 L339.35,473.17 L335.23,472.67 L331.12,472.31 L327.01,472.08 L322.90,472.00 L318.81,472.02 L314.73,472.09 L310.64,472.20 L306.55,472.35 L302.47,472.53 L298.38,472.73 L294.29,472.96 L290.21,473.20 L286.12,473.46 L282.03,473.73 L277.94,474.00 L273.86,474.27 L269.77,474.54 L265.68,474.80 L261.60,475.04 L257.51,475.27 L253.42,475.47 L249.34,475.65 L245.25,475.80 L241.16,475.91 L237.08,475.98 L232.99,476.00 L228.00,476.00 L223.00,476.00 L218.00,476.00 L213.01,476.00 L208.01,476.00 L203.02,476.00 L198.02,476.13 L193.03,476.47 L188.03,477.00 L183.04,478.53 L178.04,481.00 L173.55,483.47 L169.05,486.47 L164.56,490.00 L159.73,494.85 L154.90,500.76 L150.07,507.00 L145.83,512.68 L141.58,518.72 L137.34,524.89 L133.09,531.00 Z" fill="#DF70F8" fill-opacity="0.2" stroke="none"/>
<path d="M133.09,449.00 L137.32,449.00 L141.54,449.00 L145.77,449.00 L150.00,449.00 L154.22,449.00 L158.45,449.00 L162.68,449.00 L166.90,449.00 L171.13,449.00 L175.36,449.00 L179.58,449.00 L183.81,449.00 L188.03,449.00 L192.41,447.57 L196.78,443.81 L201.15,438.50 L205.52,432.40 L209.89,426.30 L214.26,420.99 L218.63,417.23 L223.00,415.80 L228.00,418.75 L232.99,421.70 L237.56,421.22 L242.12,419.94 L246.69,418.12 L251.26,416.02 L255.82,413.90 L260.39,412.00 L264.96,410.60 L269.10,409.62 L273.24,408.63 L277.37,407.64 L281.51,406.67 L285.65,405.73 L289.79,404.84 L293.93,404.00 L298.07,403.23 L302.21,402.54 L306.35,401.95 L310.48,401.47 L314.62,401.10 L318.76,400.88 L322.90,400.80 L327.18,400.83 L331.46,400.93 L335.74,401.08 L340.03,401.27 L344.31,401.49 L348.59,401.74 L352.87,402.00 L356.98,402.35 L361.10,402.87 L365.21,403.55 L369.32,404.36 L373.44,405.29 L377.55,406.32 L381.66,407.41 L385.78,408.57 L389.89,409.76 L394.01,410.97 L398.12,412.18 L402.23,413.37 L406.35,414.52 L410.46,415.60 L414.57,416.61 L418.69,417.51 L422.80,418.30 L426.96,419.02 L431.12,419.71 L435.29,420.38 L439.45,421.03 L443.61,421.65 L447.77,422.26 L451.94,422.85 L456.10,423.43 L460.26,424.00 L464.43,424.55 L468.59,425.09 L472.75,425.63 L476.91,426.16 L481.07,426.68 L485.24,427.20 L489.40,427.72 L493.56,428.23 L497.73,428.75 L501.89,429.28 L506.05,429.81 L510.21,430.34 L514.38,430.88 L518.54,431.44 L522.70,432.00 L522.70,506.40 L518.54,505.29 L514.38,504.15 L510.21,503.00 L506.05,501.83 L501.89,500.65 L497.73,499.46 L493.56,498.26 L489.40,497.06 L485.24,495.86 L481.07,494.66 L476.91,493.47 L472.75,492.29 L468.59,491.12 L464.43,489.97 L460.26,488.84 L456.10,487.72 L451.94,486.64 L447.77,485.58 L443.61,484.55 L439.45,483.56 L435.29,482.60 L431.12,481.69 L426.96,480.82 L422.80,480.00 L418.64,479.19 L414.47,478.37 L410.31,477.52 L406.15,476.67 L401.99,475.82 L397.82,474.97 L393.66,474.12 L389.50,473.28 L385.34,472.45 L381.17,471.65 L377.01,470.86 L372.85,470.11 L368.69,469.39 L364.52,468.70 L360.36,468.06 L356.20,467.47 L352.04,466.93 L347.88,466.45 L343.71,466.02 L339.55,465.67 L335.39,465.38 L331.22,465.17 L327.06,465.04 L322.90,465.00 L318.81,465.04 L314.73,465.16 L310.64,465.35 L306.55,465.61 L302.47,465.92 L298.38,466.28 L294.29,466.68 L290.21,467.10 L286.12,467.56 L282.03,468.02 L277.94,468.50 L273.86,468.98 L269.77,469.44 L265.68,469.90 L261.60,470.32 L257.51,470.72 L253.42,471.08 L249.34,471.39 L245.25,471.65 L241.16,471.84 L237.08,471.96 L232.99,472.00 L228.00,472.00 L223.00,472.00 L218.00,472.19 L213.01,472.66 L208.01,473.31 L203.02,474.00 L198.02,474.78 L193.03,475.77 L188.03,477.00 L183.04,478.72 L178.04,481.00 L173.55,483.47 L169.05,486.45 L164.56,490.00 L159.73,494.96 L154.90,501.05 L150.07,507.50 L145.83,513.38 L141.58,519.64 L137.34,526.06 L133.09,532.40 Z" fill="#FB61D7" fill-opacity="0.2" stroke="none"/>
<path d="M133.09,449.00 L137.18,449.13 L141.26,449.26 L145.35,449.39 L149.44,449.52 L153.52,449.64 L157.61,449.76 L161.70,449.88 L165.78,450.00 L169.87,450.12 L173.96,450.25 L178.05,450.37 L182.13,450.50 L186.22,450.62 L190.31,450.76 L194.39,450.89 L198.48,451.03 L202.57,451.18 L206.65,451.33 L210.74,451.49 L214.83,451.65 L218.91,451.82 L223.00,452.00 L227.16,452.19 L231.32,452.40 L235.49,452.61 L239.65,452.84 L243.81,453.08 L247.97,453.32 L252.14,453.58 L256.30,453.85 L260.46,454.12 L264.62,454.40 L268.79,454.69 L272.95,454.99 L277.11,455.30 L281.27,455.61 L285.44,455.93 L289.60,456.25 L293.76,456.58 L297.92,456.91 L302.09,457.25 L306.25,457.60 L310.41,457.94 L314.57,458.29 L318.74,458.64 L322.90,459.00 L327.06,459.37 L331.22,459.75 L335.39,460.15 L339.55,460.56 L343.71,460.99 L347.88,461.43 L352.04,461.88 L356.20,462.34 L360.36,462.81 L364.52,463.29 L368.69,463.77 L372.85,464.26 L377.01,464.75 L381.17,465.24 L385.34,465.74 L389.50,466.23 L393.66,466.72 L397.82,467.21 L401.99,467.69 L406.15,468.17 L410.31,468.64 L414.47,469.10 L418.64,469.56 L422.80,470.00 L426.96,470.43 L431.12,470.87 L435.29,471.30 L439.45,471.72 L443.61,472.15 L447.77,472.57 L451.94,472.99 L456.10,473.40 L460.26,473.82 L464.43,474.23 L468.59,474.65 L472.75,475.06 L476.91,475.47 L481.07,475.88 L485.24,476.29 L489.40,476.70 L493.56,477.11 L497.73,477.52 L501.89,477.93 L506.05,478.34 L510.21,478.76 L514.38,479.17 L518.54,479.58 L522.70,480.00 L522.70,505.00 L518.54,504.54 L514.38,504.09 L510.21,503.64 L506.05,503.19 L501.89,502.74 L497.73,502.29 L493.56,501.85 L489.40,501.40 L485.24,500.96 L481.07,500.51 L476.91,500.06 L472.75,499.61 L468.59,499.16 L464.43,498.71 L460.26,498.26 L456.10,497.80 L451.94,497.34 L447.77,496.88 L443.61,496.41 L439.45,495.94 L435.29,495.46 L431.12,494.98 L426.96,494.49 L422.80,494.00 L418.64,493.50 L414.47,492.98 L410.31,492.45 L406.15,491.90 L401.99,491.35 L397.82,490.79 L393.66,490.22 L389.50,489.65 L385.34,489.08 L381.17,488.50 L377.01,487.92 L372.85,487.34 L368.69,486.76 L364.52,486.19 L360.36,485.62 L356.20,485.06 L352.04,484.51 L347.88,483.97 L343.71,483.44 L339.55,482.92 L335.39,482.41 L331.22,481.92 L327.06,481.45 L322.90,481.00 L318.74,480.55 L314.57,480.10 L310.41,479.64 L306.25,479.18 L302.09,478.72 L297.92,478.26 L293.76,477.81 L289.60,477.35 L285.44,476.90 L281.27,476.46 L277.11,476.03 L272.95,475.61 L268.79,475.20 L264.62,474.81 L260.46,474.43 L256.30,474.07 L252.14,473.73 L247.97,473.40 L243.81,473.10 L239.65,472.83 L235.49,472.58 L231.32,472.36 L227.16,472.16 L223.00,472.00 L218.91,471.86 L214.83,471.73 L210.74,471.61 L206.65,471.49 L202.57,471.39 L198.48,471.29 L194.39,471.19 L190.31,471.10 L186.22,471.01 L182.13,470.93 L178.05,470.85 L173.96,470.78 L169.87,470.70 L165.78,470.63 L161.70,470.56 L157.61,470.48 L153.52,470.41 L149.44,470.33 L145.35,470.25 L141.26,470.17 L137.18,470.09 L133.09,470.00 Z" fill="#FF66A8" fill-opacity="0.2" stroke="none"/>
<path d="M133.09,497.50 L137.53,497.67 L141.97,497.83 L146.41,498.00 L150.85,498.16 L155.29,498.33 L159.73,498.49 L164.17,498.66 L168.61,498.83 L173.05,499.00 L177.21,499.17 L181.38,499.37 L185.54,499.58 L189.70,499.80 L193.86,500.03 L198.03,500.24 L202.19,500.44 L206.35,500.62 L210.51,500.78 L214.68,500.90 L218.84,500.97 L223.00,501.00 L228.00,499.52 L232.99,497.80 L237.43,497.44 L241.87,497.16 L246.31,496.94 L250.75,496.78 L255.19,496.64 L259.63,496.51 L264.07,496.38 L268.51,496.21 L272.95,496.00 L277.11,495.77 L281.27,495.52 L285.44,495.26 L289.60,494.98 L293.76,494.70 L297.92,494.40 L302.09,494.10 L306.25,493.79 L310.41,493.47 L314.57,493.15 L318.74,492.83 L322.90,492.50 L327.06,492.16 L331.22,491.82 L335.39,491.46 L339.55,491.09 L343.71,490.71 L347.88,490.32 L352.04,489.94 L356.20,489.55 L360.36,489.16 L364.53,488.77 L368.69,488.38 L372.85,488.00 L376.92,487.62 L380.98,487.21 L385.05,486.78 L389.12,486.34 L393.19,485.90 L397.25,485.46 L401.32,485.03 L405.39,484.61 L409.46,484.21 L413.52,483.85 L417.59,483.51 L421.66,483.23 L425.73,482.98 L429.79,482.80 L433.83,482.65 L437.87,482.51 L441.91,482.38 L445.95,482.26 L449.99,482.15 L454.03,482.05 L458.07,481.95 L462.11,481.86 L466.15,481.77 L470.19,481.69 L474.23,481.61 L478.27,481.53 L482.31,481.46 L486.35,481.39 L490.38,481.32 L494.42,481.25 L498.46,481.18 L502.50,481.10 L506.54,481.03 L510.58,480.95 L514.62,480.87 L518.66,480.79 L522.70,480.70" fill="none" stroke="#F8766D" stroke-width="1.3" stroke-opacity="0.6"/>
<path d="M133.09,511.60 L138.09,511.27 L143.08,510.91 L148.07,510.62 L153.07,510.50 L157.40,510.54 L161.73,510.65 L166.06,510.82 L170.39,511.04 L174.71,511.31 L179.04,511.60 L185.04,512.43 L191.03,513.40 L196.36,514.07 L201.69,514.65 L207.02,514.90 L211.68,514.90 L216.34,514.90 L221.00,514.90 L223.50,512.82 L226.00,509.40 L229.49,505.30 L232.99,502.20 L237.49,500.39 L241.98,499.15 L246.48,498.14 L250.97,497.00 L255.17,495.78 L259.36,494.57 L263.56,493.35 L267.76,492.10 L271.95,490.80 L276.55,489.29 L281.14,487.69 L285.74,486.06 L290.33,484.45 L294.93,482.90 L299.59,481.39 L304.25,479.90 L308.91,478.44 L313.58,477.00 L318.24,475.59 L322.90,474.20 L327.30,472.92 L331.69,471.67 L336.09,470.45 L340.48,469.23 L344.88,468.00 L349.37,466.71 L353.87,465.37 L358.36,464.02 L362.86,462.68 L367.36,461.38 L371.85,460.15 L376.35,459.01 L380.84,458.00 L385.17,457.10 L389.50,456.23 L393.83,455.38 L398.16,454.56 L402.49,453.77 L406.82,453.02 L411.14,452.31 L415.47,451.64 L419.80,451.02 L424.13,450.46 L428.46,449.95 L432.79,449.50 L436.88,449.12 L440.96,448.76 L445.05,448.42 L449.14,448.10 L453.22,447.79 L457.31,447.51 L461.40,447.23 L465.48,446.97 L469.57,446.72 L473.66,446.48 L477.75,446.24 L481.83,446.01 L485.92,445.79 L490.01,445.57 L494.09,445.35 L498.18,445.13 L502.27,444.90 L506.35,444.68 L510.44,444.45 L514.53,444.21 L518.61,443.96 L522.70,443.70" fill="none" stroke="#E38900" stroke-width="1.3" stroke-opacity="0.6" stroke-dasharray="5.0,5.5"/>
<path d="M133.09,500.40 L137.18,500.40 L141.26,500.40 L145.35,500.40 L149.44,500.40 L153.52,500.40 L157.61,500.40 L161.70,500.40 L165.78,500.40 L169.87,500.40 L173.96,500.40 L178.05,500.40 L182.13,500.40 L186.22,500.40 L190.31,500.40 L194.39,500.40 L198.48,500.40 L202.57,500.40 L206.65,500.40 L210.74,500.40 L214.83,500.40 L218.91,500.40 L223.00,500.40 L227.16,500.38 L231.32,500.33 L235.49,500.25 L239.65,500.13 L243.81,499.99 L247.97,499.83 L252.14,499.64 L256.30,499.43 L260.46,499.21 L264.62,498.97 L268.79,498.72 L272.95,498.46 L277.11,498.19 L281.27,497.92 L285.44,497.65 L289.60,497.38 L293.76,497.10 L297.92,496.84 L302.09,496.58 L306.25,496.34 L310.41,496.10 L314.57,495.88 L318.74,495.68 L322.90,495.50 L327.06,495.33 L331.22,495.16 L335.39,494.99 L339.55,494.83 L343.71,494.66 L347.88,494.50 L352.04,494.34 L356.20,494.18 L360.36,494.02 L364.52,493.86 L368.69,493.71 L372.85,493.56 L377.01,493.41 L381.17,493.26 L385.34,493.12 L389.50,492.98 L393.66,492.85 L397.82,492.71 L401.99,492.58 L406.15,492.46 L410.31,492.34 L414.47,492.22 L418.64,492.11 L422.80,492.00 L426.96,491.90 L431.12,491.80 L435.29,491.70 L439.45,491.60 L443.61,491.51 L447.77,491.42 L451.94,491.34 L456.10,491.25 L460.26,491.17 L464.43,491.09 L468.59,491.01 L472.75,490.93 L476.91,490.85 L481.07,490.78 L485.24,490.70 L489.40,490.63 L493.56,490.55 L497.73,490.47 L501.89,490.40 L506.05,490.32 L510.21,490.24 L514.38,490.16 L518.54,490.08 L522.70,490.00" fill="none" stroke="#C49A00" stroke-width="1.3" stroke-opacity="0.6" stroke-dasharray="1.3,4.0"/>
<path d="M133.09,466.40 L137.18,466.43 L141.26,466.45 L145.35,466.48 L149.44,466.50 L153.52,466.52 L157.61,466.54 L161.70,466.57 L165.78,466.59 L169.87,466.61 L173.96,466.63 L178.05,466.65 L182.13,466.68 L186.22,466.70 L190.31,466.73 L194.39,466.75 L198.48,466.78 L202.57,466.81 L206.65,466.85 L210.74,466.88 L214.83,466.92 L218.91,466.96 L223.00,467.00 L227.16,467.05 L231.32,467.12 L235.49,467.20 L239.65,467.29 L243.81,467.39 L247.97,467.51 L252.14,467.63 L256.30,467.76 L260.46,467.90 L264.62,468.04 L268.79,468.18 L272.95,468.33 L277.11,468.49 L281.27,468.64 L285.44,468.79 L289.60,468.95 L293.76,469.10 L297.92,469.24 L302.09,469.39 L306.25,469.52 L310.41,469.66 L314.57,469.78 L318.74,469.89 L322.90,470.00 L327.06,470.10 L331.22,470.20 L335.39,470.30 L339.55,470.40 L343.71,470.49 L347.88,470.59 L352.04,470.68 L356.20,470.78 L360.36,470.87 L364.52,470.96 L368.69,471.05 L372.85,471.13 L377.01,471.22 L381.17,471.30 L385.34,471.38 L389.50,471.46 L393.66,471.54 L397.82,471.61 L401.99,471.68 L406.15,471.75 L410.31,471.82 L414.47,471.88 L418.64,471.94 L422.80,472.00 L426.96,472.05 L431.12,472.11 L435.29,472.16 L439.45,472.21 L443.61,472.25 L447.77,472.30 L451.94,472.34 L456.10,472.38 L460.26,472.42 L464.43,472.46 L468.59,472.50 L472.75,472.54 L476.91,472.58 L481.07,472.62 L485.24,472.65 L489.40,472.69 L493.56,472.73 L497.73,472.77 L501.89,472.80 L506.05,472.84 L510.21,472.88 L514.38,472.92 L518.54,472.96 L522.70,473.00" fill="none" stroke="#99A800" stroke-width="1.3" stroke-opacity="0.6"/>
<path d="M133.09,489.30 L137.42,488.11 L141.75,486.96 L146.08,485.83 L150.41,484.70 L154.73,483.55 L159.06,482.37 L163.39,481.13 L167.72,479.81 L172.05,478.40 L177.05,476.47 L182.04,474.27 L187.04,472.11 L192.03,470.30 L196.15,469.06 L200.27,467.88 L204.39,466.77 L208.51,465.73 L212.64,464.77 L216.76,463.89 L220.88,463.10 L225.00,462.40 L229.33,461.79 L233.66,461.29 L237.99,460.84 L242.31,460.39 L246.64,459.90 L250.97,459.30 L255.17,458.56 L259.36,457.67 L263.56,456.71 L267.76,455.77 L271.95,454.90 L276.55,454.01 L281.14,453.12 L285.74,452.28 L290.33,451.53 L294.93,450.90 L299.59,450.38 L304.25,449.91 L308.91,449.49 L313.58,449.11 L318.24,448.75 L322.90,448.40 L327.30,448.05 L331.69,447.67 L336.09,447.34 L340.48,447.09 L344.88,447.00 L349.06,447.02 L353.25,447.07 L357.44,447.15 L361.62,447.26 L365.81,447.39 L370.00,447.56 L374.18,447.75 L378.37,447.96 L382.55,448.19 L386.74,448.44 L390.93,448.71 L395.11,448.99 L399.30,449.29 L403.49,449.60 L407.67,449.93 L411.86,450.26 L416.04,450.60 L420.23,450.94 L424.42,451.29 L428.60,451.65 L432.79,452.00 L436.88,452.37 L440.96,452.80 L445.05,453.28 L449.14,453.81 L453.22,454.38 L457.31,455.00 L461.40,455.64 L465.48,456.32 L469.57,457.02 L473.66,457.75 L477.75,458.50 L481.83,459.26 L485.92,460.03 L490.01,460.81 L494.09,461.59 L498.18,462.37 L502.27,463.15 L506.35,463.91 L510.44,464.67 L514.53,465.40 L518.61,466.11 L522.70,466.80" fill="none" stroke="#53B400" stroke-width="1.3" stroke-opacity="0.6" stroke-dasharray="5.0,5.5"/>
<path d="M133.09,339.00 L137.18,339.98 L141.26,340.96 L145.35,341.93 L149.44,342.91 L153.52,343.89 L157.61,344.87 L161.70,345.85 L165.78,346.83 L169.87,347.81 L173.96,348.79 L178.05,349.77 L182.13,350.75 L186.22,351.73 L190.31,352.71 L194.39,353.68 L198.48,354.66 L202.57,355.64 L206.65,356.61 L210.74,357.59 L214.83,358.56 L218.91,359.53 L223.00,360.50 L227.16,361.48 L231.32,362.46 L235.49,363.44 L239.65,364.41 L243.81,365.38 L247.97,366.35 L252.14,367.31 L256.30,368.28 L260.46,369.24 L264.62,370.20 L268.79,371.17 L272.95,372.13 L277.11,373.10 L281.27,374.06 L285.44,375.03 L289.60,376.01 L293.76,376.99 L297.92,377.97 L302.09,378.96 L306.25,379.95 L310.41,380.95 L314.57,381.96 L318.74,382.98 L322.90,384.00 L327.00,385.02 L331.09,386.05 L335.19,387.10 L339.28,388.16 L343.38,389.23 L347.48,390.31 L351.57,391.39 L355.67,392.48 L359.76,393.57 L363.86,394.66 L367.95,395.75 L372.05,396.84 L376.15,397.92 L380.24,399.00 L384.34,400.06 L388.43,401.12 L392.53,402.16 L396.63,403.19 L400.72,404.20 L404.82,405.20 L408.88,406.17 L412.95,407.14 L417.01,408.09 L421.08,409.04 L425.14,409.98 L429.21,410.91 L433.27,411.84 L437.34,412.76 L441.40,413.67 L445.47,414.58 L449.53,415.48 L453.60,416.38 L457.66,417.27 L461.73,418.16 L465.79,419.05 L469.86,419.94 L473.92,420.83 L477.99,421.71 L482.05,422.59 L486.12,423.48 L490.18,424.36 L494.25,425.24 L498.31,426.13 L502.38,427.02 L506.44,427.91 L510.51,428.80 L514.57,429.70 L518.64,430.60 L522.70,431.50" fill="none" stroke="#00BC56" stroke-width="1.3" stroke-opacity="0.6" stroke-dasharray="1.3,4.0"/>
<path d="M133.09,426.70 L137.18,426.99 L141.26,427.27 L145.35,427.56 L149.44,427.85 L153.52,428.13 L157.61,428.42 L161.70,428.70 L165.78,428.99 L169.87,429.28 L173.96,429.56 L178.05,429.85 L182.13,430.14 L186.22,430.42 L190.31,430.71 L194.39,430.99 L198.48,431.28 L202.57,431.57 L206.65,431.85 L210.74,432.14 L214.83,432.43 L218.91,432.71 L223.00,433.00 L227.11,433.29 L231.22,433.57 L235.33,433.85 L239.45,434.12 L243.56,434.39 L247.67,434.66 L251.78,434.93 L255.89,435.20 L260.00,435.47 L264.11,435.74 L268.22,436.01 L272.34,436.28 L276.45,436.55 L280.56,436.82 L284.67,437.10 L288.78,437.38 L292.89,437.67 L297.00,437.96 L301.11,438.25 L305.23,438.55 L309.34,438.86 L313.45,439.17 L317.56,439.49 L321.67,439.82 L325.78,440.15 L329.89,440.50 L334.03,440.85 L338.16,441.22 L342.29,441.58 L346.43,441.95 L350.56,442.33 L354.70,442.72 L358.83,443.11 L362.96,443.51 L367.10,443.91 L371.23,444.33 L375.36,444.75 L379.50,445.17 L383.63,445.60 L387.77,446.05 L391.90,446.49 L396.03,446.95 L400.17,447.41 L404.30,447.88 L408.44,448.36 L412.57,448.85 L416.70,449.34 L420.84,449.84 L424.97,450.35 L429.10,450.87 L433.24,451.40 L437.37,451.94 L441.51,452.48 L445.64,453.04 L449.77,453.60 L453.82,454.17 L457.88,454.78 L461.93,455.41 L465.98,456.07 L470.03,456.75 L474.08,457.45 L478.13,458.17 L482.19,458.91 L486.24,459.65 L490.29,460.41 L494.34,461.16 L498.39,461.93 L502.44,462.69 L506.49,463.45 L510.55,464.20 L514.60,464.95 L518.65,465.68 L522.70,466.40" fill="none" stroke="#00C094" stroke-width="1.3" stroke-opacity="0.6"/>
<path d="M133.09,556.00 L138.09,555.78 L143.08,555.59 L148.07,555.35 L153.07,555.00 L158.56,554.16 L164.06,552.80 L169.39,550.92 L174.72,548.38 L180.04,545.50 L184.29,542.88 L188.53,539.87 L192.78,536.67 L197.03,533.50 L202.35,529.63 L207.68,525.68 L213.01,521.50 L218.00,516.95 L223.00,512.70 L228.00,509.60 L232.99,507.00 L237.99,504.72 L242.98,502.67 L247.97,500.70 L252.47,498.99 L256.97,497.36 L261.46,495.78 L265.96,494.19 L270.45,492.54 L274.95,490.80 L279.94,488.70 L284.94,486.48 L289.93,484.22 L294.93,482.00 L299.59,479.94 L304.25,477.85 L308.91,475.77 L313.58,473.74 L318.24,471.80 L322.90,470.00 L327.30,468.38 L331.69,466.80 L336.09,465.31 L340.48,463.96 L344.88,462.80 L349.37,461.76 L353.87,460.77 L358.36,459.84 L362.86,458.98 L367.36,458.20 L371.85,457.48 L376.35,456.85 L380.84,456.30 L384.90,455.85 L388.95,455.40 L393.01,454.96 L397.06,454.54 L401.12,454.13 L405.17,453.73 L409.23,453.36 L413.28,453.00 L417.33,452.66 L421.39,452.35 L425.44,452.06 L429.50,451.81 L433.55,451.58 L437.61,451.38 L441.66,451.22 L445.72,451.09 L449.77,451.00 L453.82,450.93 L457.88,450.87 L461.93,450.82 L465.98,450.77 L470.03,450.73 L474.08,450.68 L478.13,450.65 L482.19,450.61 L486.24,450.58 L490.29,450.55 L494.34,450.52 L498.39,450.49 L502.44,450.46 L506.49,450.43 L510.55,450.40 L514.60,450.37 L518.65,450.34 L522.70,450.30" fill="none" stroke="#00BFC4" stroke-width="1.3" stroke-opacity="0.6" stroke-dasharray="5.0,5.5"/>
<path d="M133.09,463.80 L137.18,463.83 L141.26,463.86 L145.35,463.89 L149.44,463.91 L153.52,463.94 L157.61,463.96 L161.70,463.99 L165.78,464.01 L169.87,464.04 L173.96,464.06 L178.05,464.09 L182.13,464.12 L186.22,464.14 L190.31,464.17 L194.39,464.20 L198.48,464.24 L202.57,464.27 L206.65,464.31 L210.74,464.35 L214.83,464.40 L218.91,464.45 L223.00,464.50 L227.16,464.57 L231.32,464.66 L235.49,464.78 L239.65,464.91 L243.81,465.07 L247.97,465.25 L252.14,465.44 L256.30,465.64 L260.46,465.86 L264.62,466.08 L268.79,466.32 L272.95,466.56 L277.11,466.81 L281.27,467.05 L285.44,467.30 L289.60,467.55 L293.76,467.80 L297.92,468.04 L302.09,468.28 L306.25,468.51 L310.41,468.72 L314.57,468.93 L318.74,469.12 L322.90,469.30 L327.06,469.47 L331.22,469.63 L335.39,469.79 L339.55,469.94 L343.71,470.09 L347.88,470.24 L352.04,470.39 L356.20,470.53 L360.36,470.68 L364.52,470.82 L368.69,470.96 L372.85,471.09 L377.01,471.23 L381.17,471.37 L385.34,471.51 L389.50,471.65 L393.66,471.78 L397.82,471.92 L401.99,472.06 L406.15,472.21 L410.31,472.35 L414.47,472.50 L418.64,472.65 L422.80,472.80 L426.96,472.95 L431.12,473.11 L435.29,473.27 L439.45,473.43 L443.61,473.58 L447.77,473.75 L451.94,473.91 L456.10,474.07 L460.26,474.23 L464.43,474.40 L468.59,474.56 L472.75,474.72 L476.91,474.89 L481.07,475.05 L485.24,475.22 L489.40,475.38 L493.56,475.55 L497.73,475.72 L501.89,475.88 L506.05,476.05 L510.21,476.21 L514.38,476.37 L518.54,476.54 L522.70,476.70" fill="none" stroke="#00B6EB" stroke-width="1.3" stroke-opacity="0.6" stroke-dasharray="1.3,4.0"/>
<path d="M133.09,475.40 L137.18,475.16 L141.26,474.90 L145.35,474.62 L149.44,474.33 L153.52,474.04 L157.61,473.73 L161.70,473.43 L165.78,473.12 L169.87,472.81 L173.96,472.51 L178.05,472.21 L182.13,471.93 L186.22,471.66 L190.31,471.40 L194.39,471.17 L198.48,470.96 L202.57,470.77 L206.65,470.61 L210.74,470.48 L214.83,470.38 L218.91,470.32 L223.00,470.30 L227.16,470.30 L231.32,470.32 L235.49,470.34 L239.65,470.37 L243.81,470.41 L247.97,470.45 L252.14,470.51 L256.30,470.56 L260.46,470.63 L264.62,470.70 L268.79,470.77 L272.95,470.85 L277.11,470.94 L281.27,471.02 L285.44,471.11 L289.60,471.21 L293.76,471.30 L297.92,471.40 L302.09,471.50 L306.25,471.60 L310.41,471.70 L314.57,471.80 L318.74,471.90 L322.90,472.00 L326.99,472.10 L331.09,472.20 L335.18,472.31 L339.27,472.43 L343.36,472.54 L347.46,472.67 L351.55,472.79 L355.64,472.92 L359.73,473.06 L363.83,473.20 L367.92,473.35 L372.01,473.50 L376.10,473.65 L380.20,473.81 L384.29,473.98 L388.38,474.15 L392.48,474.32 L396.57,474.50 L400.66,474.69 L404.75,474.87 L408.85,475.07 L412.94,475.27 L417.03,475.47 L421.12,475.68 L425.22,475.90 L429.31,476.12 L433.40,476.35 L437.49,476.58 L441.59,476.81 L445.68,477.05 L449.77,477.30 L453.82,477.56 L457.88,477.86 L461.93,478.18 L465.98,478.53 L470.03,478.90 L474.08,479.29 L478.13,479.70 L482.19,480.12 L486.24,480.56 L490.29,481.00 L494.34,481.45 L498.39,481.90 L502.44,482.35 L506.49,482.79 L510.55,483.24 L514.60,483.67 L518.65,484.09 L522.70,484.50" fill="none" stroke="#06A4FF" stroke-width="1.3" stroke-opacity="0.6"/>
<path d="M133.09,487.20 L137.18,487.19 L141.26,487.18 L145.35,487.17 L149.44,487.16 L153.52,487.15 L157.61,487.13 L161.70,487.12 L165.78,487.11 L169.87,487.10 L173.96,487.09 L178.05,487.07 L182.13,487.06 L186.22,487.05 L190.31,487.04 L194.39,487.03 L198.48,487.03 L202.57,487.02 L206.65,487.01 L210.74,487.01 L214.83,487.00 L218.91,487.00 L223.00,487.00 L227.16,487.00 L231.32,487.00 L235.49,487.00 L239.65,487.00 L243.81,487.00 L247.97,487.00 L252.14,487.00 L256.30,487.00 L260.46,487.00 L264.62,487.00 L268.79,487.00 L272.95,487.00 L277.11,487.00 L281.27,487.00 L285.44,487.00 L289.60,487.00 L293.76,487.00 L297.92,487.00 L302.09,487.00 L306.25,487.00 L310.41,487.00 L314.57,487.00 L318.74,487.00 L322.90,487.00 L327.06,487.00 L331.22,487.01 L335.39,487.01 L339.55,487.02 L343.71,487.03 L347.88,487.04 L352.04,487.06 L356.20,487.07 L360.36,487.09 L364.52,487.11 L368.69,487.13 L372.85,487.16 L377.01,487.18 L381.17,487.21 L385.34,487.23 L389.50,487.26 L393.66,487.29 L397.82,487.32 L401.99,487.35 L406.15,487.38 L410.31,487.41 L414.47,487.44 L418.64,487.47 L422.80,487.50 L426.96,487.53 L431.12,487.57 L435.29,487.62 L439.45,487.66 L443.61,487.71 L447.77,487.77 L451.94,487.83 L456.10,487.89 L460.26,487.95 L464.43,488.02 L468.59,488.09 L472.75,488.16 L476.91,488.23 L481.07,488.30 L485.24,488.37 L489.40,488.44 L493.56,488.52 L497.73,488.59 L501.89,488.66 L506.05,488.73 L510.21,488.80 L514.38,488.87 L518.54,488.94 L522.70,489.00" fill="none" stroke="#A58AFF" stroke-width="1.3" stroke-opacity="0.6" stroke-dasharray="5.0,5.5"/>
<path d="M133.09,468.90 L137.27,469.02 L141.45,469.13 L145.62,469.24 L149.80,469.35 L153.98,469.45 L158.16,469.55 L162.33,469.66 L166.51,469.76 L170.69,469.86 L174.87,469.97 L179.04,470.07 L183.22,470.18 L187.40,470.29 L191.58,470.40 L195.75,470.52 L199.93,470.64 L204.11,470.77 L208.29,470.90 L212.47,471.04 L216.64,471.19 L220.82,471.34 L225.00,471.50 L229.27,471.68 L233.53,471.87 L237.80,472.08 L242.07,472.30 L246.34,472.54 L250.61,472.79 L254.88,473.06 L259.15,473.33 L263.41,473.61 L267.68,473.90 L271.95,474.20 L276.00,474.49 L280.05,474.80 L284.11,475.13 L288.16,475.47 L292.21,475.82 L296.26,476.18 L300.31,476.55 L304.36,476.94 L308.41,477.34 L312.47,477.74 L316.52,478.15 L320.57,478.57 L324.62,479.00 L328.67,479.43 L332.72,479.87 L336.77,480.31 L340.83,480.75 L344.88,481.20 L348.92,481.66 L352.97,482.14 L357.01,482.65 L361.05,483.17 L365.10,483.71 L369.14,484.27 L373.18,484.83 L377.23,485.40 L381.27,485.98 L385.31,486.56 L389.36,487.14 L393.40,487.72 L397.44,488.29 L401.49,488.86 L405.53,489.41 L409.58,489.96 L413.62,490.49 L417.66,491.00 L421.71,491.49 L425.75,491.96 L429.79,492.40 L433.83,492.82 L437.87,493.23 L441.91,493.63 L445.95,494.02 L449.99,494.40 L454.03,494.77 L458.07,495.14 L462.11,495.50 L466.15,495.85 L470.19,496.20 L474.23,496.54 L478.27,496.88 L482.31,497.21 L486.35,497.55 L490.38,497.88 L494.42,498.21 L498.46,498.54 L502.50,498.88 L506.54,499.22 L510.58,499.55 L514.62,499.90 L518.66,500.25 L522.70,500.60" fill="none" stroke="#DF70F8" stroke-width="1.3" stroke-opacity="0.6" stroke-dasharray="1.3,4.0"/>
<path d="M133.09,496.60 L137.42,494.42 L141.75,492.24 L146.08,490.07 L150.41,487.90 L154.73,485.72 L159.06,483.54 L163.39,481.34 L167.72,479.13 L172.05,476.90 L176.55,474.47 L181.04,471.97 L185.54,469.55 L190.03,467.40 L194.15,465.51 L198.27,463.51 L202.40,461.52 L206.52,459.65 L210.64,458.00 L214.76,456.68 L218.88,455.81 L223.00,455.50 L228.00,456.50 L232.99,457.50 L237.32,457.26 L241.65,456.59 L245.98,455.61 L250.31,454.42 L254.64,453.11 L258.96,451.79 L263.29,450.56 L267.62,449.53 L271.95,448.80 L276.20,448.27 L280.44,447.77 L284.69,447.29 L288.93,446.84 L293.18,446.41 L297.43,446.02 L301.67,445.66 L305.92,445.33 L310.16,445.04 L314.41,444.79 L318.65,444.57 L322.90,444.40 L327.89,444.22 L332.89,444.06 L337.88,443.94 L342.88,443.90 L347.04,443.97 L351.20,444.17 L355.37,444.49 L359.53,444.91 L363.69,445.41 L367.86,445.98 L372.02,446.60 L376.18,447.27 L380.34,447.95 L384.51,448.65 L388.67,449.34 L392.83,450.00 L396.90,450.67 L400.96,451.42 L405.03,452.23 L409.10,453.09 L413.17,454.00 L417.23,454.94 L421.30,455.90 L425.37,456.87 L429.44,457.85 L433.50,458.82 L437.57,459.77 L441.64,460.69 L445.71,461.57 L449.77,462.40 L453.82,463.19 L457.88,463.97 L461.93,464.74 L465.98,465.49 L470.03,466.23 L474.08,466.96 L478.13,467.69 L482.19,468.40 L486.24,469.11 L490.29,469.82 L494.34,470.53 L498.39,471.23 L502.44,471.93 L506.49,472.64 L510.55,473.35 L514.60,474.06 L518.65,474.78 L522.70,475.50" fill="none" stroke="#FB61D7" stroke-width="1.3" stroke-opacity="0.6"/>
<path d="M133.09,459.40 L137.18,459.51 L141.26,459.62 L145.35,459.73 L149.44,459.83 L153.52,459.93 L157.61,460.03 L161.70,460.13 L165.78,460.23 L169.87,460.33 L173.96,460.43 L178.05,460.53 L182.13,460.64 L186.22,460.74 L190.31,460.85 L194.39,460.97 L198.48,461.08 L202.57,461.21 L206.65,461.33 L210.74,461.46 L214.83,461.60 L218.91,461.75 L223.00,461.90 L227.06,462.06 L231.13,462.23 L235.19,462.40 L239.25,462.59 L243.31,462.78 L247.38,462.98 L251.44,463.19 L255.50,463.41 L259.56,463.64 L263.63,463.87 L267.69,464.11 L271.75,464.35 L275.81,464.61 L279.88,464.87 L283.94,465.14 L288.00,465.41 L292.06,465.69 L296.13,465.97 L300.19,466.26 L304.25,466.56 L308.31,466.86 L312.38,467.17 L316.44,467.48 L320.50,467.80 L324.56,468.12 L328.63,468.45 L332.69,468.78 L336.75,469.12 L340.82,469.46 L344.88,469.80 L348.91,470.15 L352.95,470.52 L356.98,470.91 L361.02,471.31 L365.05,471.73 L369.08,472.17 L373.12,472.61 L377.15,473.07 L381.19,473.55 L385.22,474.03 L389.26,474.52 L393.29,475.02 L397.33,475.53 L401.36,476.05 L405.39,476.57 L409.43,477.10 L413.46,477.63 L417.50,478.17 L421.53,478.71 L425.57,479.25 L429.60,479.80 L433.64,480.34 L437.67,480.88 L441.70,481.43 L445.74,481.96 L449.77,482.50 L453.82,483.04 L457.88,483.59 L461.93,484.15 L465.98,484.72 L470.03,485.29 L474.08,485.87 L478.13,486.46 L482.19,487.05 L486.24,487.64 L490.29,488.24 L494.34,488.84 L498.39,489.44 L502.44,490.04 L506.49,490.63 L510.55,491.23 L514.60,491.82 L518.65,492.41 L522.70,493.00" fill="none" stroke="#FF66A8" stroke-width="1.3" stroke-opacity="0.6" stroke-dasharray="5.0,5.5"/>
<line x1="123.10" y1="574.1" x2="123.10" y2="577.40" stroke="#333333" stroke-width="1.07"/>
<text x="123.10" y="588.4" font-size="10.6" fill="#3D3D3D" text-anchor="middle" font-family="Liberation Sans, sans-serif">0</text>
<line x1="223.00" y1="574.1" x2="223.00" y2="577.40" stroke="#333333" stroke-width="1.07"/>
<text x="223.00" y="588.4" font-size="10.6" fill="#3D3D3D" text-anchor="middle" font-family="Liberation Sans, sans-serif">10</text>
<line x1="322.90" y1="574.1" x2="322.90" y2="577.40" stroke="#333333" stroke-width="1.07"/>
<text x="322.90" y="588.4" font-size="10.6" fill="#3D3D3D" text-anchor="middle" font-family="Liberation Sans, sans-serif">20</text>
<line x1="422.80" y1="574.1" x2="422.80" y2="577.40" stroke="#333333" stroke-width="1.07"/>
<text x="422.80" y="588.4" font-size="10.6" fill="#3D3D3D" text-anchor="middle" font-family="Liberation Sans, sans-serif">30</text>
<line x1="522.70" y1="574.1" x2="522.70" y2="577.40" stroke="#333333" stroke-width="1.07"/>
<text x="522.70" y="588.4" font-size="10.6" fill="#3D3D3D" text-anchor="middle" font-family="Liberation Sans, sans-serif">40</text>
<line x1="99.50" y1="507.5" x2="102.8" y2="507.5" stroke="#333333" stroke-width="1.07"/>
<text x="96.5" y="511.30" font-size="10.6" fill="#3D3D3D" text-anchor="end" font-family="Liberation Sans, sans-serif">1e+04</text>
<line x1="99.50" y1="413.3" x2="102.8" y2="413.3" stroke="#333333" stroke-width="1.07"/>
<text x="96.5" y="417.10" font-size="10.6" fill="#3D3D3D" text-anchor="end" font-family="Liberation Sans, sans-serif">1e+06</text>
<line x1="99.50" y1="319.2" x2="102.8" y2="319.2" stroke="#333333" stroke-width="1.07"/>
<text x="96.5" y="323.00" font-size="10.6" fill="#3D3D3D" text-anchor="end" font-family="Liberation Sans, sans-serif">1e+08</text>
<text x="322.90" y="603.9" font-size="13.5" fill="#000" text-anchor="middle" font-family="Liberation Sans, sans-serif">Generations ago</text>
<text transform="translate(57.4,433.15) rotate(-90)" font-size="13.7" fill="#000" text-anchor="middle" font-family="Liberation Sans, sans-serif">Log Effective Population Size</text>
<text x="1.6" y="289.4" font-size="12.4" font-weight="bold" fill="#000" font-family="Liberation Sans, sans-serif">C</text>
<text x="563.4" y="311.5" font-size="10.0" fill="#000" font-family="Liberation Sans, sans-serif">Population</text>
<rect x="563.6" y="318.45" width="16.4" height="17.55" fill="#EBEBEB"/>
<rect x="564.2" y="319.30" width="15.2" height="15.8" fill="#F8766D" fill-opacity="0.25"/>
<line x1="565.2" y1="327.30" x2="579.0" y2="327.30" stroke="#F8766D" stroke-width="1.3" stroke-opacity="0.6"/>
<text x="587.9" y="330.60" font-size="8.6" fill="#000" font-family="Liberation Sans, sans-serif">Iquitos</text>
<rect x="563.6" y="336.00" width="16.4" height="17.55" fill="#EBEBEB"/>
<rect x="564.2" y="336.85" width="15.2" height="15.8" fill="#E38900" fill-opacity="0.25"/>
<line x1="565.2" y1="344.85" x2="579.0" y2="344.85" stroke="#E38900" stroke-width="1.3" stroke-opacity="0.6" stroke-dasharray="5.0,5.5"/>
<text x="587.9" y="348.15" font-size="8.6" fill="#000" font-family="Liberation Sans, sans-serif">Tumbes</text>
<rect x="563.6" y="353.55" width="16.4" height="17.55" fill="#EBEBEB"/>
<rect x="564.2" y="354.40" width="15.2" height="15.8" fill="#C49A00" fill-opacity="0.25"/>
<line x1="565.2" y1="362.40" x2="579.0" y2="362.40" stroke="#C49A00" stroke-width="1.3" stroke-opacity="0.6" stroke-dasharray="1.3,4.0"/>
<text x="587.9" y="365.70" font-size="8.6" fill="#000" font-family="Liberation Sans, sans-serif">Lambayeque</text>
<rect x="563.6" y="371.10" width="16.4" height="17.55" fill="#EBEBEB"/>
<rect x="564.2" y="371.95" width="15.2" height="15.8" fill="#99A800" fill-opacity="0.25"/>
<line x1="565.2" y1="379.95" x2="579.0" y2="379.95" stroke="#99A800" stroke-width="1.3" stroke-opacity="0.6"/>
<text x="587.9" y="383.25" font-size="8.6" fill="#000" font-family="Liberation Sans, sans-serif">Trujillo</text>
<rect x="563.6" y="388.65" width="16.4" height="17.55" fill="#EBEBEB"/>
<rect x="564.2" y="389.50" width="15.2" height="15.8" fill="#53B400" fill-opacity="0.25"/>
<line x1="565.2" y1="397.50" x2="579.0" y2="397.50" stroke="#53B400" stroke-width="1.3" stroke-opacity="0.6" stroke-dasharray="5.0,5.5"/>
<text x="587.9" y="400.80" font-size="8.6" fill="#000" font-family="Liberation Sans, sans-serif">Huaraz</text>
<rect x="563.6" y="406.20" width="16.4" height="17.55" fill="#EBEBEB"/>
<rect x="564.2" y="407.05" width="15.2" height="15.8" fill="#00BC56" fill-opacity="0.25"/>
<line x1="565.2" y1="415.05" x2="579.0" y2="415.05" stroke="#00BC56" stroke-width="1.3" stroke-opacity="0.6" stroke-dasharray="1.3,4.0"/>
<text x="587.9" y="418.35" font-size="8.6" fill="#000" font-family="Liberation Sans, sans-serif">PEL</text>
<rect x="563.6" y="423.75" width="16.4" height="17.55" fill="#EBEBEB"/>
<rect x="564.2" y="424.60" width="15.2" height="15.8" fill="#00C094" fill-opacity="0.25"/>
<line x1="565.2" y1="432.60" x2="579.0" y2="432.60" stroke="#00C094" stroke-width="1.3" stroke-opacity="0.6"/>
<text x="587.9" y="435.90" font-size="8.6" fill="#000" font-family="Liberation Sans, sans-serif">Lima</text>
<rect x="563.6" y="441.30" width="16.4" height="17.55" fill="#EBEBEB"/>
<rect x="564.2" y="442.15" width="15.2" height="15.8" fill="#00BFC4" fill-opacity="0.25"/>
<line x1="565.2" y1="450.15" x2="579.0" y2="450.15" stroke="#00BFC4" stroke-width="1.3" stroke-opacity="0.6" stroke-dasharray="5.0,5.5"/>
<text x="587.9" y="453.45" font-size="8.6" fill="#000" font-family="Liberation Sans, sans-serif">El Carmen</text>
<rect x="563.6" y="458.85" width="16.4" height="17.55" fill="#EBEBEB"/>
<rect x="564.2" y="459.70" width="15.2" height="15.8" fill="#00B6EB" fill-opacity="0.25"/>
<line x1="565.2" y1="467.70" x2="579.0" y2="467.70" stroke="#00B6EB" stroke-width="1.3" stroke-opacity="0.6" stroke-dasharray="1.3,4.0"/>
<text x="587.9" y="471.00" font-size="8.6" fill="#000" font-family="Liberation Sans, sans-serif">Arequipa</text>
<rect x="563.6" y="476.40" width="16.4" height="17.55" fill="#EBEBEB"/>
<rect x="564.2" y="477.25" width="15.2" height="15.8" fill="#06A4FF" fill-opacity="0.25"/>
<line x1="565.2" y1="485.25" x2="579.0" y2="485.25" stroke="#06A4FF" stroke-width="1.3" stroke-opacity="0.6"/>
<text x="587.9" y="488.55" font-size="8.6" fill="#000" font-family="Liberation Sans, sans-serif">Ayacucho</text>
<rect x="563.6" y="493.95" width="16.4" height="17.55" fill="#EBEBEB"/>
<rect x="564.2" y="494.80" width="15.2" height="15.8" fill="#A58AFF" fill-opacity="0.25"/>
<line x1="565.2" y1="502.80" x2="579.0" y2="502.80" stroke="#A58AFF" stroke-width="1.3" stroke-opacity="0.6" stroke-dasharray="5.0,5.5"/>
<text x="587.9" y="506.10" font-size="8.6" fill="#000" font-family="Liberation Sans, sans-serif">Moquegua</text>
<rect x="563.6" y="511.50" width="16.4" height="17.55" fill="#EBEBEB"/>
<rect x="564.2" y="512.35" width="15.2" height="15.8" fill="#DF70F8" fill-opacity="0.25"/>
<line x1="565.2" y1="520.35" x2="579.0" y2="520.35" stroke="#DF70F8" stroke-width="1.3" stroke-opacity="0.6" stroke-dasharray="1.3,4.0"/>
<text x="587.9" y="523.65" font-size="8.6" fill="#000" font-family="Liberation Sans, sans-serif">Tacna</text>
<rect x="563.6" y="529.05" width="16.4" height="17.55" fill="#EBEBEB"/>
<rect x="564.2" y="529.90" width="15.2" height="15.8" fill="#FB61D7" fill-opacity="0.25"/>
<line x1="565.2" y1="537.90" x2="579.0" y2="537.90" stroke="#FB61D7" stroke-width="1.3" stroke-opacity="0.6"/>
<text x="587.9" y="541.20" font-size="8.6" fill="#000" font-family="Liberation Sans, sans-serif">Cusco</text>
<rect x="563.6" y="546.60" width="16.4" height="17.55" fill="#EBEBEB"/>
<rect x="564.2" y="547.45" width="15.2" height="15.8" fill="#FF66A8" fill-opacity="0.25"/>
<line x1="565.2" y1="555.45" x2="579.0" y2="555.45" stroke="#FF66A8" stroke-width="1.3" stroke-opacity="0.6" stroke-dasharray="5.0,5.5"/>
<text x="587.9" y="558.75" font-size="8.6" fill="#000" font-family="Liberation Sans, sans-serif">Juliaca</text>
</svg>
</body></html>
